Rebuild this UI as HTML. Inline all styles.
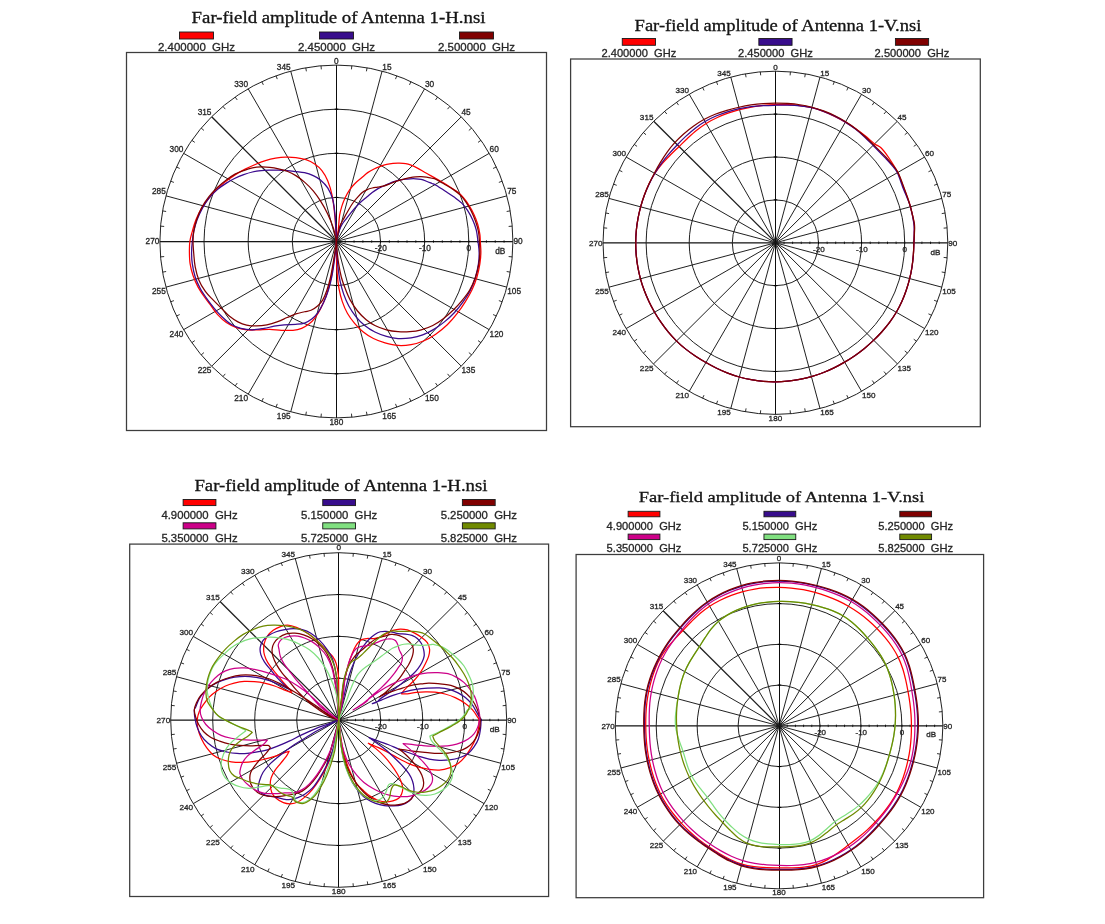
<!DOCTYPE html>
<html lang="en"><head><meta charset="utf-8"><title>Far-field amplitude</title>
<style>html,body{margin:0;padding:0;background:#fff;}body{width:1105px;height:924px;overflow:hidden;font-family:"Liberation Sans",sans-serif;}svg{display:block;}</style>
</head><body>
<svg width="1105" height="924" viewBox="0 0 1105 924"><defs><filter id="soft" x="0" y="0" width="100%" height="100%" filterUnits="userSpaceOnUse"><feGaussianBlur stdDeviation="0.38"/></filter></defs><rect width="1105" height="924" fill="#fff"/><g filter="url(#soft)"><g><text x="191.6" y="23.3" font-family="Liberation Serif, serif" font-size="16.2" fill="#141414" stroke="#141414" stroke-width="0.3" textLength="293.9" lengthAdjust="spacingAndGlyphs">Far-field amplitude of Antenna 1-H.nsi</text><rect x="179.5" y="32" width="34" height="7" fill="#ff0000" stroke="#1a1a1a" stroke-width="0.9"/><text x="196.5" y="51" text-anchor="middle" font-family="Liberation Sans, sans-serif" font-size="11.45" fill="#262626" stroke="#262626" stroke-width="0.3" textLength="77" lengthAdjust="spacingAndGlyphs" xml:space="preserve">2.400000  GHz</text><rect x="319.5" y="32" width="34" height="7" fill="#38088c" stroke="#1a1a1a" stroke-width="0.9"/><text x="336.5" y="51" text-anchor="middle" font-family="Liberation Sans, sans-serif" font-size="11.45" fill="#262626" stroke="#262626" stroke-width="0.3" textLength="77" lengthAdjust="spacingAndGlyphs" xml:space="preserve">2.450000  GHz</text><rect x="459.5" y="32" width="34" height="7" fill="#800000" stroke="#1a1a1a" stroke-width="0.9"/><text x="476.5" y="51" text-anchor="middle" font-family="Liberation Sans, sans-serif" font-size="11.45" fill="#262626" stroke="#262626" stroke-width="0.3" textLength="77" lengthAdjust="spacingAndGlyphs" xml:space="preserve">2.500000  GHz</text><rect x="126.5" y="52.5" width="420" height="378" fill="none" stroke="#3c3c3c" stroke-width="1.25"/><g fill="none" stroke="#1c1c1c" stroke-width="0.98"><ellipse cx="336.4" cy="241.5" rx="44.12" ry="44.1"/><ellipse cx="336.4" cy="241.5" rx="88.25" ry="88.2"/><ellipse cx="336.4" cy="241.5" rx="132.38" ry="132.3"/><ellipse cx="336.4" cy="241.5" rx="176.5" ry="176.4" stroke-width="0.98"/><path d="M336.4 241.5L382.08 71.11M336.4 241.5L424.65 88.73M336.4 241.5L489.25 153.3M336.4 241.5L506.89 195.84M336.4 241.5L506.89 287.16M336.4 241.5L489.25 329.7M336.4 241.5L424.65 394.27M336.4 241.5L382.08 411.89M336.4 241.5L290.72 411.89M336.4 241.5L248.15 394.27M336.4 241.5L183.55 329.7M336.4 241.5L165.91 287.16M336.4 241.5L165.91 195.84M336.4 241.5L183.55 153.3M336.4 241.5L248.15 88.73M336.4 241.5L290.72 71.11"/><path d="M336.45 241.55L461.25 116.82" stroke-width="1.0"/><path d="M336.45 241.45L461.25 366.18" stroke-width="1.0"/><path d="M336.45 241.55L211.65 366.28" stroke-width="1.0"/><path d="M336.45 241.45L211.65 116.72" stroke-width="1.3"/><path d="M336.5 65.1L336.5 417.9" stroke="#0a0a0a" stroke-width="1"/><path d="M159.9 241.5L512.9 241.5" stroke="#161616" stroke-width="1.25"/><path d="M351.78 65.77L351.47 69.36M367.05 67.78L366.42 71.32M396.77 75.74L395.54 79.12M410.99 81.63L409.47 84.89M437.64 97L435.57 99.95M449.85 106.37L447.54 109.13M471.61 128.11L468.85 130.42M480.98 140.32L478.03 142.38M496.36 166.95L493.1 168.47M502.26 181.17L498.87 182.4M510.22 210.87L506.67 211.49M512.23 226.13L508.64 226.44M512.23 256.87L508.64 256.56M510.22 272.13L506.67 271.51M502.26 301.83L498.87 300.6M496.36 316.05L493.1 314.53M480.98 342.68L478.03 340.62M471.61 354.89L468.85 352.58M449.85 376.63L447.54 373.87M437.64 386L435.57 383.05M410.99 401.37L409.47 398.11M396.77 407.26L395.54 403.88M367.05 415.22L366.42 411.68M351.78 417.23L351.47 413.64M321.02 417.23L321.33 413.64M305.75 415.22L306.38 411.68M276.03 407.26L277.26 403.88M261.81 401.37L263.33 398.11M235.16 386L237.23 383.05M222.95 376.63L225.26 373.87M201.19 354.89L203.95 352.58M191.82 342.68L194.77 340.62M176.44 316.05L179.7 314.53M170.54 301.83L173.93 300.6M162.58 272.13L166.13 271.51M160.57 256.87L164.16 256.56M160.57 226.13L164.16 226.44M162.58 210.87L166.13 211.49M170.54 181.17L173.93 182.4M176.44 166.95L179.7 168.47M191.82 140.32L194.77 142.38M201.19 128.11L203.95 130.42M222.95 106.37L225.26 109.13M235.16 97L237.23 99.95M261.81 81.63L263.33 84.89M276.03 75.74L277.26 79.12M305.75 67.78L306.38 71.32M321.02 65.77L321.33 69.36" stroke-width="0.9"/><path d="M345.22 240.25L345.22 242.75M354.05 240.25L354.05 242.75M362.88 240.25L362.88 242.75M371.7 240.25L371.7 242.75M380.52 240.25L380.52 242.75M389.35 240.25L389.35 242.75M398.17 240.25L398.17 242.75M407 240.25L407 242.75M415.82 240.25L415.82 242.75M424.65 240.25L424.65 242.75M433.47 240.25L433.47 242.75M442.3 240.25L442.3 242.75M451.12 240.25L451.12 242.75M459.95 240.25L459.95 242.75M468.77 240.25L468.77 242.75M477.6 240.25L477.6 242.75M486.42 240.25L486.42 242.75M495.25 240.25L495.25 242.75M504.07 240.25L504.07 242.75" stroke="#000" stroke-width="0.75"/><path d="M334.7 197.4L338.3 197.4M334.7 285.6L338.3 285.6M334.7 153.3L338.3 153.3M334.7 329.7L338.3 329.7M334.7 109.2L338.3 109.2M334.7 373.8L338.3 373.8" stroke="#000" stroke-width="1"/></g><g font-family="Liberation Sans, sans-serif" font-size="8.2" fill="#262626" stroke="#262626" stroke-width="0.3"><text x="334.09" y="63.6" textLength="4.61" lengthAdjust="spacingAndGlyphs">0</text><text x="382.38" y="69.61" textLength="9.23" lengthAdjust="spacingAndGlyphs">15</text><text x="424.95" y="87.23" textLength="9.23" lengthAdjust="spacingAndGlyphs">30</text><text x="461.5" y="115.27" textLength="9.23" lengthAdjust="spacingAndGlyphs">45</text><text x="489.55" y="151.8" textLength="9.23" lengthAdjust="spacingAndGlyphs">60</text><text x="507.19" y="194.34" textLength="9.23" lengthAdjust="spacingAndGlyphs">75</text><text x="513.4" y="244.44" textLength="9.23" lengthAdjust="spacingAndGlyphs">90</text><text x="507.19" y="293.96" textLength="13.84" lengthAdjust="spacingAndGlyphs">105</text><text x="489.55" y="336.5" textLength="13.84" lengthAdjust="spacingAndGlyphs">120</text><text x="461.5" y="373.03" textLength="13.84" lengthAdjust="spacingAndGlyphs">135</text><text x="424.95" y="401.07" textLength="13.84" lengthAdjust="spacingAndGlyphs">150</text><text x="382.38" y="418.69" textLength="13.84" lengthAdjust="spacingAndGlyphs">165</text><text x="329.48" y="424.9" textLength="13.84" lengthAdjust="spacingAndGlyphs">180</text><text x="276.77" y="418.69" textLength="13.84" lengthAdjust="spacingAndGlyphs">195</text><text x="234.21" y="401.07" textLength="13.84" lengthAdjust="spacingAndGlyphs">210</text><text x="197.65" y="373.03" textLength="13.84" lengthAdjust="spacingAndGlyphs">225</text><text x="169.6" y="336.5" textLength="13.84" lengthAdjust="spacingAndGlyphs">240</text><text x="151.97" y="293.96" textLength="13.84" lengthAdjust="spacingAndGlyphs">255</text><text x="145.56" y="244.44" textLength="13.84" lengthAdjust="spacingAndGlyphs">270</text><text x="151.97" y="194.34" textLength="13.84" lengthAdjust="spacingAndGlyphs">285</text><text x="169.6" y="151.8" textLength="13.84" lengthAdjust="spacingAndGlyphs">300</text><text x="197.65" y="115.27" textLength="13.84" lengthAdjust="spacingAndGlyphs">315</text><text x="234.21" y="87.23" textLength="13.84" lengthAdjust="spacingAndGlyphs">330</text><text x="276.77" y="69.61" textLength="13.84" lengthAdjust="spacingAndGlyphs">345</text><text x="374.83" y="251.2" textLength="11.99" lengthAdjust="spacingAndGlyphs">-20</text><text x="418.95" y="251.2" textLength="11.99" lengthAdjust="spacingAndGlyphs">-10</text><text x="466.57" y="251.2" textLength="4.61" lengthAdjust="spacingAndGlyphs">0</text><text x="495.22" y="254" textLength="10.15" lengthAdjust="spacingAndGlyphs">dB</text></g><g fill="none" stroke-width="1.25" stroke-linejoin="round" stroke-linecap="round"><path d="M336.4 241.5C336.71 239.58 337.73 234.39 338.26 230C338.8 225.61 339.02 219.14 339.62 215.16C340.22 211.18 340.98 208.97 341.88 206.11C342.79 203.24 343.77 200.68 345.05 197.96C346.33 195.25 347.92 192.23 349.57 189.82C351.23 187.41 353.04 185.44 355 183.48C356.97 181.52 359.23 179.86 361.34 178.05C363.45 176.24 365.56 174.13 367.67 172.62C369.79 171.12 371.9 170.06 374.01 169C376.12 167.95 378.23 167.07 380.34 166.29C382.46 165.51 384.57 164.8 386.68 164.3C388.79 163.8 390.9 163.5 393.01 163.3C395.13 163.11 397.24 163.08 399.35 163.12C401.46 163.17 403.72 163.23 405.68 163.57C407.64 163.92 409.15 164.45 411.11 165.2C413.07 165.96 415.34 167.01 417.45 168.1C419.56 169.19 421.67 170.51 423.78 171.72C425.89 172.93 428.08 174.21 430.12 175.34C432.15 176.47 433.38 177.01 436 178.51C438.62 180 442.51 182.25 445.84 184.3C449.17 186.35 453.08 188.64 455.98 190.82C458.87 192.99 461.05 194.92 463.22 197.33C465.39 199.75 467.2 202.4 469.01 205.3C470.82 208.19 472.63 211.57 474.08 214.71C475.53 217.85 476.73 220.86 477.7 224.12C478.66 227.38 479.44 231.36 479.87 234.26C480.3 237.15 480.14 238.48 480.3 241.5C480.47 244.52 480.96 248.63 480.88 252.38C480.81 256.12 480.52 259.86 479.87 263.96C479.22 268.06 478.3 272.65 476.97 276.99C475.65 281.34 473.84 285.92 471.91 290.02C469.97 294.13 467.8 297.75 465.39 301.61C462.98 305.47 460.44 309.33 457.43 313.19C454.41 317.05 450.91 321.28 447.29 324.78C443.67 328.28 439.57 331.53 435.71 334.19C431.84 336.84 428.22 338.97 424.12 340.71C420.02 342.44 415.43 343.82 411.09 344.61C406.74 345.41 402.4 345.77 398.06 345.48C393.71 345.19 389.13 344.04 385.02 342.88C380.92 341.72 377.06 340.34 373.44 338.53C369.82 336.72 366.44 334.55 363.3 332.02C360.17 329.48 357.27 326.47 354.62 323.33C351.96 320.19 349.43 316.81 347.38 313.19C345.32 309.57 343.71 305.71 342.31 301.61C340.91 297.51 339.82 293.16 338.98 288.58C338.13 283.99 337.65 279.16 337.24 274.1C336.83 269.03 336.66 263.6 336.52 258.17C336.38 252.74 336.42 244.28 336.4 241.5L336.4 241.5C336.2 243.07 335.71 247.18 335.23 250.93C334.74 254.67 334.26 259.13 333.49 263.96C332.72 268.79 331.8 274.58 330.59 279.89C329.39 285.2 327.94 290.99 326.25 295.82C324.56 300.64 322.39 305.11 320.46 308.85C318.53 312.59 316.6 315.73 314.67 318.26C312.73 320.79 311.05 322.36 308.87 324.05C306.7 325.74 304.29 327.36 301.63 328.4C298.98 329.43 296.32 329.97 292.95 330.28C289.57 330.59 285.22 330.42 281.36 330.28C277.5 330.13 273.64 329.48 269.78 329.41C265.92 329.34 262.05 329.77 258.19 329.85C254.33 329.92 250.23 330.21 246.61 329.85C242.99 329.48 239.85 328.88 236.47 327.67C233.09 326.47 229.47 324.78 226.34 322.6C223.2 320.43 220.18 317.42 217.65 314.64C215.11 311.87 213.3 308.85 211.13 305.95C208.96 303.06 206.79 300.4 204.62 297.26C202.44 294.13 200.03 290.75 198.1 287.13C196.17 283.51 194.36 279.41 193.03 275.54C191.7 271.68 190.74 267.82 190.14 263.96C189.53 260.1 189.46 256.12 189.41 252.38C189.36 248.64 189.36 245.02 189.85 241.52C190.33 238.01 191.29 234.98 192.31 231.36C193.32 227.74 194.36 223.64 195.93 219.78C197.5 215.92 199.55 211.81 201.72 208.19C203.89 204.57 206.55 201.07 208.96 198.06C211.37 195.04 213.55 192.75 216.2 190.09C218.86 187.44 221.75 184.66 224.89 182.13C228.03 179.59 231.65 177.06 235.02 174.89C238.4 172.72 241.78 170.83 245.16 169.1C248.54 167.36 251.92 165.86 255.3 164.46C258.68 163.06 262.05 161.74 265.43 160.7C268.81 159.66 272.19 158.84 275.57 158.24C278.95 157.63 282.33 157.2 285.71 157.08C289.08 156.96 292.46 157.08 295.84 157.51C299.22 157.95 302.84 158.6 305.98 159.68C309.11 160.77 312.01 162.22 314.67 164.03C317.32 165.84 319.73 167.77 321.91 170.54C324.08 173.32 326.01 176.58 327.7 180.68C329.39 184.78 330.84 189.13 332.04 195.16C333.25 201.19 334.21 209.16 334.94 216.88C335.66 224.6 336.16 237.4 336.4 241.5" stroke="#ff0000"/><path d="M336.4 241.5C336.94 239.52 338.56 232.67 339.62 229.64C340.68 226.61 341.81 224.96 342.79 223.3C343.77 221.64 345.05 220.29 345.5 219.68L345.5 219.68C346.33 218.63 348.75 215.46 350.48 213.35C352.21 211.24 354.1 208.97 355.91 207.01C357.72 205.05 359.53 203.24 361.34 201.58C363.15 199.92 364.96 198.57 366.77 197.06C368.58 195.55 370.39 193.89 372.2 192.53C374.01 191.18 375.82 189.97 377.63 188.91C379.44 187.86 381.25 187.03 383.06 186.2C384.87 185.37 386.68 184.69 388.49 183.94C390.3 183.18 392.11 182.31 393.92 181.67C395.73 181.04 397.54 180.56 399.35 180.14C401.16 179.71 402.97 179.37 404.78 179.14C406.59 178.91 408.4 178.84 410.21 178.78C412.02 178.72 413.83 178.67 415.64 178.78C417.45 178.88 419.26 179 421.07 179.41C422.88 179.82 424.69 180.54 426.5 181.22C428.31 181.9 430.34 182.81 431.93 183.48C433.51 184.16 433.68 183.95 436 185.29C438.32 186.64 442.75 189.53 445.84 191.54C448.93 193.55 451.87 195.4 454.53 197.33C457.18 199.26 459.6 200.95 461.77 203.12C463.94 205.3 465.75 207.59 467.56 210.36C469.37 213.14 471.18 216.52 472.63 219.78C474.08 223.04 475.36 226.29 476.25 229.91C477.14 233.53 477.5 237.75 477.99 241.5C478.47 245.24 479.07 248.63 479.15 252.38C479.22 256.12 479.03 259.86 478.42 263.96C477.82 268.06 476.85 272.65 475.53 276.99C474.2 281.34 472.51 285.92 470.46 290.02C468.41 294.13 465.87 297.87 463.22 301.61C460.56 305.35 457.67 309.09 454.53 312.47C451.39 315.85 447.77 319.11 444.39 321.88C441.01 324.66 437.88 326.95 434.26 329.12C430.64 331.29 426.53 333.47 422.67 334.91C418.81 336.36 415.19 337.21 411.09 337.81C406.99 338.41 402.16 338.77 398.06 338.53C393.95 338.29 390.33 337.45 386.47 336.36C382.61 335.28 378.51 333.83 374.89 332.02C371.27 330.21 367.89 328.04 364.75 325.5C361.62 322.97 358.72 320.07 356.06 316.81C353.41 313.55 350.88 309.69 348.82 305.95C346.77 302.21 345.2 298.47 343.76 294.37C342.31 290.27 341.1 285.92 340.14 281.34C339.17 276.75 338.52 271.68 337.96 266.86C337.41 262.03 337.07 256.6 336.81 252.38C336.54 248.15 336.47 243.31 336.4 241.5L336.4 241.5C336.11 244.28 335.37 252.49 334.65 258.17C333.92 263.84 333.08 270.24 332.04 275.54C331 280.85 329.87 285.44 328.42 290.02C326.97 294.61 325.16 299.2 323.35 303.06C321.54 306.92 319.49 310.54 317.56 313.19C315.63 315.85 313.94 317.34 311.77 318.98C309.6 320.63 307.18 322.15 304.53 323.04C301.87 323.93 299.22 324.05 295.84 324.34C292.46 324.63 287.88 324.46 284.26 324.78C280.64 325.09 277.5 325.62 274.12 326.23C270.74 326.83 267.6 327.79 263.98 328.4C260.36 329 256.26 329.85 252.4 329.85C248.54 329.85 244.44 329.36 240.82 328.4C237.2 327.43 233.82 325.98 230.68 324.05C227.54 322.12 224.77 319.47 221.99 316.81C219.22 314.16 216.56 311.14 214.03 308.12C211.49 305.11 209.08 301.97 206.79 298.71C204.5 295.45 202.2 292.2 200.27 288.58C198.34 284.96 196.53 281.1 195.2 276.99C193.88 272.89 192.91 268.06 192.31 263.96C191.7 259.86 191.58 256.12 191.58 252.38C191.58 248.64 191.95 245.02 192.31 241.52C192.67 238.01 192.96 234.98 193.76 231.36C194.55 227.74 195.64 223.64 197.09 219.78C198.53 215.92 200.47 211.81 202.44 208.19C204.42 204.57 206.43 201.19 208.96 198.06C211.49 194.92 214.75 191.85 217.65 189.37C220.54 186.88 223.44 185 226.34 183.14C229.23 181.28 232.13 179.64 235.02 178.22C237.92 176.8 240.82 175.64 243.71 174.6C246.61 173.56 249.5 172.67 252.4 171.99C255.3 171.32 258.19 170.86 261.09 170.54C263.98 170.23 266.88 170.18 269.78 170.11C272.67 170.04 275.57 170.04 278.47 170.11C281.36 170.18 284.26 170.3 287.15 170.54C290.05 170.79 292.95 171.2 295.84 171.56C298.74 171.92 301.63 172.04 304.53 172.72C307.43 173.39 310.56 174.41 313.22 175.61C315.87 176.82 318.04 177.91 320.46 179.96C322.87 182.01 325.65 184.66 327.7 187.92C329.75 191.18 331.51 194.68 332.77 199.5C334.02 204.33 334.62 209.88 335.23 216.88C335.83 223.88 336.2 237.4 336.4 241.5" stroke="#38088c"/><path d="M336.4 241.5C336.94 239.07 338.33 230.86 339.62 226.92C340.91 222.99 342.64 220.74 344.14 217.87C345.65 215.01 347.16 212.29 348.67 209.73C350.18 207.16 351.69 204.6 353.19 202.49C354.7 200.38 356.21 198.72 357.72 197.06C359.23 195.4 360.74 193.74 362.24 192.53C363.75 191.33 365.11 190.57 366.77 189.82C368.43 189.06 370.39 188.46 372.2 188.01C374.01 187.56 375.82 187.41 377.63 187.1C379.44 186.8 381.25 186.65 383.06 186.2C384.87 185.75 386.68 185.07 388.49 184.39C390.3 183.71 392.11 182.81 393.92 182.13C395.73 181.45 397.54 180.84 399.35 180.32C401.16 179.79 402.97 179.41 404.78 178.96C406.59 178.51 408.4 177.95 410.21 177.6C412.02 177.25 413.83 177.03 415.64 176.88C417.45 176.73 419.26 176.65 421.07 176.7C422.88 176.74 424.69 176.89 426.5 177.15C428.31 177.41 430.34 177.86 431.93 178.24C433.51 178.61 433.68 178.28 436 179.41C438.32 180.54 442.99 183.37 445.84 185.02C448.69 186.68 450.67 187.68 453.08 189.37C455.49 191.06 458.15 192.99 460.32 195.16C462.49 197.33 464.3 199.75 466.11 202.4C467.92 205.06 469.61 207.95 471.18 211.09C472.75 214.23 474.32 217.85 475.53 221.23C476.73 224.6 477.77 227.98 478.42 231.36C479.07 234.74 479.19 237.99 479.44 241.5C479.68 245 479.97 248.63 479.87 252.38C479.77 256.12 479.58 259.86 478.86 263.96C478.13 268.06 477.05 272.65 475.53 276.99C474.01 281.34 472.03 286.04 469.73 290.02C467.44 294.01 464.54 297.51 461.77 300.88C458.99 304.26 456.22 307.28 453.08 310.3C449.94 313.31 446.32 316.45 442.95 318.98C439.57 321.52 436.43 323.69 432.81 325.5C429.19 327.31 425.09 328.81 421.23 329.85C417.36 330.88 413.5 331.41 409.64 331.73C405.78 332.04 401.92 332.04 398.06 331.73C394.2 331.41 390.33 330.88 386.47 329.85C382.61 328.81 378.27 327.19 374.89 325.5C371.51 323.81 369.1 322.12 366.2 319.71C363.3 317.3 360.17 314.28 357.51 311.02C354.86 307.76 352.32 303.9 350.27 300.16C348.22 296.42 346.7 292.44 345.2 288.58C343.71 284.72 342.38 281.1 341.29 276.99C340.21 272.89 339.36 268.06 338.69 263.96C338.01 259.86 337.62 256.12 337.24 252.38C336.86 248.63 336.54 243.31 336.4 241.5L336.4 241.5C336.28 242.59 336.15 244.77 335.66 248.03C335.18 251.29 334.33 256.24 333.49 261.06C332.65 265.89 331.68 272.17 330.59 276.99C329.51 281.82 328.3 286.16 326.97 290.02C325.65 293.89 324.2 297.51 322.63 300.16C321.06 302.82 319.49 304.26 317.56 305.95C315.63 307.64 313.22 309.33 311.05 310.3C308.87 311.26 307.06 311.14 304.53 311.74C302 312.35 298.74 312.95 295.84 313.92C292.95 314.88 290.29 316.21 287.15 317.54C284.02 318.86 280.4 320.67 277.02 321.88C273.64 323.09 270.26 324.1 266.88 324.78C263.5 325.45 260.12 325.89 256.74 325.94C253.37 325.98 249.75 325.74 246.61 325.07C243.47 324.39 240.82 323.38 237.92 321.88C235.02 320.38 231.89 318.26 229.23 316.09C226.58 313.92 224.65 311.5 221.99 308.85C219.34 306.19 216.08 303.06 213.3 300.16C210.53 297.26 207.75 294.85 205.34 291.47C202.93 288.09 200.51 283.99 198.82 279.89C197.13 275.79 196.05 271.2 195.2 266.86C194.36 262.51 194.12 258.05 193.76 253.82C193.39 249.6 193.03 245.26 193.03 241.52C193.03 237.77 193.15 234.98 193.76 231.36C194.36 227.74 195.32 223.76 196.65 219.78C197.98 215.79 199.67 211.33 201.72 207.47C203.77 203.61 206.31 199.99 208.96 196.61C211.62 193.23 214.75 189.97 217.65 187.2C220.54 184.42 223.44 182.13 226.34 179.96C229.23 177.78 232.13 175.73 235.02 174.16C237.92 172.6 240.82 171.58 243.71 170.54C246.61 169.51 249.5 168.54 252.4 167.94C255.3 167.33 258.19 167.02 261.09 166.92C263.98 166.83 266.88 167.05 269.78 167.36C272.67 167.67 275.57 168.16 278.47 168.81C281.36 169.46 284.26 170.13 287.15 171.27C290.05 172.4 292.95 173.8 295.84 175.61C298.74 177.42 301.63 179.59 304.53 182.13C307.43 184.66 310.56 187.68 313.22 190.82C315.87 193.95 318.04 197.09 320.46 200.95C322.87 204.81 325.53 209.4 327.7 213.98C329.87 218.57 332.04 223.88 333.49 228.47C334.94 233.05 335.91 239.33 336.4 241.5" stroke="#800000"/></g></g>
<g><text x="634.6" y="30.7" font-family="Liberation Serif, serif" font-size="16" fill="#141414" stroke="#141414" stroke-width="0.3" textLength="286.7" lengthAdjust="spacingAndGlyphs">Far-field amplitude of Antenna 1-V.nsi</text><rect x="622.28" y="38.5" width="33.2" height="6.8" fill="#ff0000" stroke="#1a1a1a" stroke-width="0.9"/><text x="638.88" y="57.3" text-anchor="middle" font-family="Liberation Sans, sans-serif" font-size="11.15" fill="#262626" stroke="#262626" stroke-width="0.3" textLength="74.8" lengthAdjust="spacingAndGlyphs" xml:space="preserve">2.400000  GHz</text><rect x="758.85" y="38.5" width="33.2" height="6.8" fill="#38088c" stroke="#1a1a1a" stroke-width="0.9"/><text x="775.45" y="57.3" text-anchor="middle" font-family="Liberation Sans, sans-serif" font-size="11.15" fill="#262626" stroke="#262626" stroke-width="0.3" textLength="74.8" lengthAdjust="spacingAndGlyphs" xml:space="preserve">2.450000  GHz</text><rect x="895.42" y="38.5" width="33.2" height="6.8" fill="#800000" stroke="#1a1a1a" stroke-width="0.9"/><text x="912.02" y="57.3" text-anchor="middle" font-family="Liberation Sans, sans-serif" font-size="11.15" fill="#262626" stroke="#262626" stroke-width="0.3" textLength="74.8" lengthAdjust="spacingAndGlyphs" xml:space="preserve">2.500000  GHz</text><rect x="570.6" y="59" width="409.7" height="367.7" fill="none" stroke="#3c3c3c" stroke-width="1.25"/><g fill="none" stroke="#1c1c1c" stroke-width="0.98"><ellipse cx="775.4" cy="242.8" rx="43.1" ry="42.9"/><ellipse cx="775.4" cy="242.8" rx="86.2" ry="85.8"/><ellipse cx="775.4" cy="242.8" rx="129.3" ry="128.7"/><ellipse cx="775.4" cy="242.8" rx="172.4" ry="171.6" stroke-width="0.98"/><path d="M775.4 242.8L820.02 77.05M775.4 242.8L861.6 94.19M775.4 242.8L924.7 157M775.4 242.8L941.93 198.39M775.4 242.8L941.93 287.21M775.4 242.8L924.7 328.6M775.4 242.8L861.6 391.41M775.4 242.8L820.02 408.55M775.4 242.8L730.78 408.55M775.4 242.8L689.2 391.41M775.4 242.8L626.1 328.6M775.4 242.8L608.87 287.21M775.4 242.8L608.87 198.39M775.4 242.8L626.1 157M775.4 242.8L689.2 94.19M775.4 242.8L730.78 77.05"/><path d="M775.3 242.7L897.21 121.36" stroke-width="1.0"/><path d="M775.6 242.6L897.51 363.94" stroke-width="1.0"/><path d="M775.3 242.7L653.39 364.04" stroke-width="1.0"/><path d="M775.6 242.6L653.69 121.26" stroke-width="1.3"/><path d="M775.5 71.2L775.5 414.4" stroke="#0a0a0a" stroke-width="1"/><path d="M603 242.8L947.8 242.8" stroke="#161616" stroke-width="1.25"/><path d="M790.43 71.85L790.12 75.34M805.34 73.81L804.73 77.25M834.36 81.55L833.16 84.84M848.26 87.28L846.77 90.45M874.28 102.23L872.27 105.1M886.22 111.35L883.96 114.03M907.47 132.5L904.77 134.75M916.62 144.37L913.74 146.38M931.65 170.28L928.46 171.76M937.4 184.11L934.1 185.31M945.18 213L941.72 213.61M947.14 227.84L943.64 228.15M947.14 257.76L943.64 257.45M945.18 272.6L941.72 271.99M937.4 301.49L934.1 300.29M931.65 315.32L928.46 313.84M916.62 341.23L913.74 339.22M907.47 353.1L904.77 350.85M886.22 374.25L883.96 371.57M874.28 383.37L872.27 380.5M848.26 398.32L846.77 395.15M834.36 404.05L833.16 400.76M805.34 411.79L804.73 408.35M790.43 413.75L790.12 410.26M760.37 413.75L760.68 410.26M745.46 411.79L746.07 408.35M716.44 404.05L717.64 400.76M702.54 398.32L704.03 395.15M676.52 383.37L678.53 380.5M664.58 374.25L666.84 371.57M643.33 353.1L646.03 350.85M634.18 341.23L637.06 339.22M619.15 315.32L622.34 313.84M613.4 301.49L616.7 300.29M605.62 272.6L609.08 271.99M603.66 257.76L607.16 257.45M603.66 227.84L607.16 228.15M605.62 213L609.08 213.61M613.4 184.11L616.7 185.31M619.15 170.28L622.34 171.76M634.18 144.37L637.06 146.38M643.33 132.5L646.03 134.75M664.58 111.35L666.84 114.03M676.52 102.23L678.53 105.1M702.54 87.28L704.03 90.45M716.44 81.55L717.64 84.84M745.46 73.81L746.07 77.25M760.37 71.85L760.68 75.34" stroke-width="0.9"/><path d="M784.02 241.55L784.02 244.05M792.64 241.55L792.64 244.05M801.26 241.55L801.26 244.05M809.88 241.55L809.88 244.05M818.5 241.55L818.5 244.05M827.12 241.55L827.12 244.05M835.74 241.55L835.74 244.05M844.36 241.55L844.36 244.05M852.98 241.55L852.98 244.05M861.6 241.55L861.6 244.05M870.22 241.55L870.22 244.05M878.84 241.55L878.84 244.05M887.46 241.55L887.46 244.05M896.08 241.55L896.08 244.05M904.7 241.55L904.7 244.05M913.32 241.55L913.32 244.05M921.94 241.55L921.94 244.05M930.56 241.55L930.56 244.05M939.18 241.55L939.18 244.05" stroke="#000" stroke-width="0.75"/><path d="M773.7 199.9L777.3 199.9M773.7 285.7L777.3 285.7M773.7 157L777.3 157M773.7 328.6L777.3 328.6M773.7 114.1L777.3 114.1M773.7 371.5L777.3 371.5" stroke="#000" stroke-width="1"/></g><g font-family="Liberation Sans, sans-serif" font-size="7.9" fill="#262626" stroke="#262626" stroke-width="0.3"><text x="773.15" y="69.7" textLength="4.5" lengthAdjust="spacingAndGlyphs">0</text><text x="820.32" y="75.55" textLength="9.01" lengthAdjust="spacingAndGlyphs">15</text><text x="861.9" y="92.69" textLength="9.01" lengthAdjust="spacingAndGlyphs">30</text><text x="897.61" y="119.96" textLength="9.01" lengthAdjust="spacingAndGlyphs">45</text><text x="925" y="155.5" textLength="9.01" lengthAdjust="spacingAndGlyphs">60</text><text x="942.23" y="196.89" textLength="9.01" lengthAdjust="spacingAndGlyphs">75</text><text x="948.3" y="245.63" textLength="9.01" lengthAdjust="spacingAndGlyphs">90</text><text x="942.23" y="294.01" textLength="13.51" lengthAdjust="spacingAndGlyphs">105</text><text x="925" y="335.4" textLength="13.51" lengthAdjust="spacingAndGlyphs">120</text><text x="897.61" y="370.94" textLength="13.51" lengthAdjust="spacingAndGlyphs">135</text><text x="861.9" y="398.21" textLength="13.51" lengthAdjust="spacingAndGlyphs">150</text><text x="820.32" y="415.35" textLength="13.51" lengthAdjust="spacingAndGlyphs">165</text><text x="768.64" y="421" textLength="13.51" lengthAdjust="spacingAndGlyphs">180</text><text x="717.17" y="415.35" textLength="13.51" lengthAdjust="spacingAndGlyphs">195</text><text x="675.59" y="398.21" textLength="13.51" lengthAdjust="spacingAndGlyphs">210</text><text x="639.88" y="370.94" textLength="13.51" lengthAdjust="spacingAndGlyphs">225</text><text x="612.49" y="335.4" textLength="13.51" lengthAdjust="spacingAndGlyphs">240</text><text x="595.26" y="294.01" textLength="13.51" lengthAdjust="spacingAndGlyphs">255</text><text x="588.99" y="245.63" textLength="13.51" lengthAdjust="spacingAndGlyphs">270</text><text x="595.26" y="196.89" textLength="13.51" lengthAdjust="spacingAndGlyphs">285</text><text x="612.49" y="155.5" textLength="13.51" lengthAdjust="spacingAndGlyphs">300</text><text x="639.88" y="119.96" textLength="13.51" lengthAdjust="spacingAndGlyphs">315</text><text x="675.59" y="92.69" textLength="13.51" lengthAdjust="spacingAndGlyphs">330</text><text x="717.17" y="75.55" textLength="13.51" lengthAdjust="spacingAndGlyphs">345</text><text x="812.95" y="252.27" textLength="11.7" lengthAdjust="spacingAndGlyphs">-20</text><text x="856.05" y="252.27" textLength="11.7" lengthAdjust="spacingAndGlyphs">-10</text><text x="902.55" y="252.27" textLength="4.5" lengthAdjust="spacingAndGlyphs">0</text><text x="930.54" y="255.01" textLength="9.91" lengthAdjust="spacingAndGlyphs">dB</text></g><g fill="none" stroke-width="1.25" stroke-linejoin="round" stroke-linecap="round"><path d="M775.4 104.74C779.43 104.62 783.49 104.57 787.54 104.71C791.59 104.84 795.67 105.05 799.71 105.56C803.75 106.06 807.81 106.74 811.76 107.72C815.72 108.69 819.63 109.98 823.44 111.42C827.26 112.86 830.98 114.56 834.64 116.35C838.3 118.13 841.89 120.07 845.4 122.12C848.91 124.17 852.35 126.35 855.69 128.67C859.03 130.98 862.26 133.45 865.44 135.99C868.61 138.54 872.12 141.92 874.75 143.91C877.38 145.91 878.88 145.65 881.22 147.96C883.57 150.26 886.05 153.65 888.81 157.74C891.56 161.83 895.24 167.36 897.77 172.48C900.3 177.6 902.39 184.29 903.99 188.47C905.6 192.65 906.35 194.5 907.42 197.55C908.5 200.6 909.33 202.48 910.44 206.78C911.54 211.09 913.4 219.01 914.04 223.41C914.68 227.8 914.29 229.9 914.27 233.13C914.24 236.37 914.05 239.19 913.9 242.8C913.75 246.41 913.68 250.82 913.37 254.81C913.05 258.81 912.65 262.81 912.03 266.78C911.42 270.75 910.63 274.7 909.66 278.61C908.7 282.51 907.55 286.39 906.25 290.2C904.95 294.02 903.5 297.81 901.84 301.48C900.18 305.16 898.34 308.79 896.3 312.28C894.25 315.76 891.98 319.14 889.58 322.38C887.18 325.62 884.57 328.73 881.89 331.74C879.2 334.75 876.38 337.64 873.48 340.42C870.57 343.2 867.55 345.88 864.44 348.42C861.32 350.95 858.09 353.36 854.78 355.64C851.47 357.92 848.07 360.07 844.6 362.1C841.13 364.13 837.59 366.06 833.97 367.83C830.36 369.6 826.67 371.27 822.91 372.74C819.16 374.21 815.31 375.52 811.43 376.63C807.54 377.75 803.58 378.67 799.6 379.42C795.62 380.17 791.59 380.75 787.56 381.14C783.53 381.52 779.46 381.73 775.4 381.75C771.34 381.78 767.27 381.62 763.23 381.28C759.19 380.94 755.14 380.42 751.15 379.71C747.15 379 743.17 378.11 739.27 377.02C735.37 375.92 731.51 374.61 727.74 373.15C723.96 371.69 720.27 370.01 716.64 368.24C713 366.47 709.45 364.54 705.95 362.53C702.45 360.53 698.98 358.44 695.62 356.21C692.26 353.98 688.93 351.64 685.76 349.13C682.59 346.62 679.51 343.95 676.62 341.12C673.72 338.3 670.98 335.28 668.39 332.18C665.8 329.07 663.37 325.81 661.07 322.48C658.77 319.16 656.61 315.72 654.59 312.23C652.57 308.73 650.66 305.15 648.93 301.5C647.2 297.85 645.6 294.12 644.19 290.34C642.78 286.55 641.52 282.69 640.46 278.79C639.4 274.89 638.51 270.93 637.8 266.95C637.09 262.97 636.56 258.95 636.21 254.92C635.86 250.9 635.69 246.84 635.7 242.8C635.71 238.76 635.91 234.71 636.28 230.69C636.66 226.66 637.22 222.65 637.95 218.68C638.67 214.71 639.6 210.76 640.65 206.86C641.71 202.97 642.91 199.09 644.29 195.3C645.66 191.5 647.17 187.73 648.92 184.09C650.66 180.46 652.57 176.86 654.76 173.47C656.95 170.09 659.45 166.87 662.04 163.8C664.64 160.72 667.51 157.88 670.32 155.04C673.12 152.19 676.03 149.5 678.88 146.73C681.73 143.96 684.5 141.14 687.41 138.43C690.33 135.71 693.24 132.94 696.36 130.44C699.48 127.94 702.74 125.53 706.15 123.41C709.56 121.29 713.16 119.43 716.81 117.73C720.45 116.03 724.22 114.55 728.01 113.2C731.8 111.85 735.66 110.67 739.55 109.64C743.44 108.61 747.39 107.74 751.35 107.04C755.31 106.35 759.32 105.84 763.33 105.46C767.34 105.08 771.37 104.87 775.4 104.74Z" stroke="#ff0000"/><path d="M775.4 105.24C779.43 105.17 783.45 105.08 787.5 105.17C791.54 105.25 795.63 105.33 799.68 105.76C803.72 106.18 807.8 106.79 811.76 107.72C815.73 108.64 819.66 109.9 823.48 111.31C827.31 112.72 831.07 114.38 834.72 116.18C838.37 117.98 841.96 119.97 845.4 122.12C848.84 124.27 852.18 126.62 855.38 129.1C858.58 131.58 861.63 134.27 864.59 137C867.56 139.72 869.8 142.02 873.19 145.46C876.58 148.9 881.88 154.39 884.93 157.62C887.99 160.85 889.45 162.32 891.52 164.84C893.59 167.36 895.36 168.74 897.34 172.73C899.31 176.71 901.72 184.58 903.35 188.74C904.98 192.9 905.91 194.66 907.09 197.67C908.27 200.67 909.31 202.49 910.44 206.78C911.56 211.08 913.22 219.04 913.84 223.43C914.46 227.83 914.15 229.91 914.16 233.14C914.17 236.37 914.03 239.19 913.9 242.8C913.77 246.41 913.69 250.82 913.38 254.82C913.07 258.81 912.66 262.82 912.04 266.78C911.42 270.75 910.63 274.71 909.66 278.61C908.7 282.51 907.55 286.39 906.25 290.2C904.95 294.02 903.5 297.81 901.84 301.48C900.18 305.16 898.34 308.79 896.3 312.28C894.25 315.76 891.98 319.14 889.58 322.38C887.18 325.62 884.57 328.73 881.89 331.74C879.2 334.75 876.38 337.64 873.48 340.42C870.57 343.2 867.55 345.88 864.44 348.42C861.32 350.95 858.09 353.36 854.78 355.64C851.47 357.92 848.07 360.07 844.6 362.1C841.13 364.13 837.59 366.06 833.97 367.83C830.36 369.6 826.67 371.27 822.91 372.74C819.16 374.21 815.31 375.52 811.43 376.63C807.54 377.75 803.58 378.67 799.6 379.42C795.62 380.17 791.59 380.75 787.56 381.14C783.53 381.52 779.46 381.73 775.4 381.75C771.34 381.78 767.27 381.62 763.23 381.28C759.19 380.94 755.14 380.42 751.15 379.71C747.15 379 743.17 378.11 739.27 377.02C735.37 375.92 731.51 374.61 727.74 373.15C723.96 371.69 720.27 370.01 716.64 368.24C713 366.47 709.45 364.54 705.95 362.53C702.45 360.53 698.98 358.44 695.62 356.21C692.26 353.98 688.93 351.64 685.76 349.13C682.59 346.62 679.51 343.95 676.62 341.12C673.72 338.3 670.98 335.28 668.39 332.18C665.8 329.07 663.37 325.81 661.07 322.48C658.77 319.16 656.61 315.72 654.59 312.23C652.57 308.73 650.66 305.15 648.93 301.5C647.2 297.85 645.6 294.12 644.19 290.34C642.78 286.55 641.52 282.69 640.46 278.79C639.4 274.89 638.51 270.93 637.8 266.95C637.09 262.97 636.56 258.95 636.21 254.92C635.86 250.9 635.69 246.84 635.7 242.8C635.71 238.76 635.91 234.71 636.28 230.69C636.66 226.66 637.22 222.65 637.95 218.68C638.67 214.71 639.58 210.75 640.65 206.86C641.72 202.97 642.97 199.11 644.37 195.33C645.78 191.55 647.35 187.81 649.08 184.17C650.82 180.53 652.71 176.94 654.76 173.47C656.82 170.01 659.06 166.63 661.43 163.37C663.79 160.1 666.34 156.96 668.95 153.9C671.57 150.83 674.32 147.88 677.11 144.97C679.91 142.05 682.74 139.17 685.71 136.41C688.69 133.66 691.72 130.91 694.94 128.43C698.16 125.94 701.54 123.58 705.05 121.52C708.56 119.45 712.27 117.65 716.01 116.04C719.76 114.43 723.63 113.07 727.51 111.84C731.39 110.61 735.33 109.55 739.29 108.68C743.25 107.81 747.27 107.12 751.27 106.61C755.28 106.09 759.32 105.82 763.34 105.6C767.36 105.37 771.37 105.31 775.4 105.24Z" stroke="#38088c"/><path d="M775.4 103.05C779.48 103.04 783.57 103.15 787.65 103.43C791.73 103.72 795.82 104.11 799.86 104.75C803.9 105.38 807.93 106.2 811.89 107.24C815.85 108.27 819.77 109.54 823.61 110.96C827.44 112.39 831.22 114.01 834.9 115.8C838.57 117.59 842.18 119.54 845.65 121.69C849.12 123.83 852.47 126.19 855.69 128.66C858.92 131.14 861.98 133.82 864.98 136.54C867.98 139.25 870.23 141.56 873.69 144.97C877.14 148.38 882.63 153.77 885.72 157.01C888.81 160.24 890.19 161.8 892.23 164.37C894.26 166.93 895.94 168.38 897.94 172.38C899.95 176.38 902.67 184.16 904.27 188.35C905.87 192.54 906.52 194.44 907.55 197.51C908.58 200.58 909.31 202.48 910.44 206.78C911.57 211.09 913.67 218.97 914.33 223.36C915 227.75 914.5 229.88 914.43 233.12C914.36 236.36 914.08 239.19 913.9 242.8C913.72 246.41 913.65 250.82 913.34 254.81C913.02 258.81 912.63 262.81 912.02 266.78C911.41 270.74 910.63 274.7 909.66 278.61C908.7 282.51 907.55 286.39 906.25 290.2C904.95 294.02 903.5 297.81 901.84 301.48C900.18 305.16 898.34 308.79 896.3 312.28C894.25 315.76 891.98 319.14 889.58 322.38C887.18 325.62 884.57 328.73 881.89 331.74C879.2 334.75 876.38 337.64 873.48 340.42C870.57 343.2 867.55 345.88 864.44 348.42C861.32 350.95 858.09 353.36 854.78 355.64C851.47 357.92 848.07 360.07 844.6 362.1C841.13 364.13 837.59 366.06 833.97 367.83C830.36 369.6 826.67 371.27 822.91 372.74C819.16 374.21 815.31 375.52 811.43 376.63C807.54 377.75 803.58 378.67 799.6 379.42C795.62 380.17 791.59 380.75 787.56 381.14C783.53 381.52 779.46 381.73 775.4 381.75C771.34 381.78 767.27 381.62 763.23 381.28C759.19 380.94 755.14 380.42 751.15 379.71C747.15 379 743.17 378.11 739.27 377.02C735.37 375.92 731.51 374.61 727.74 373.15C723.96 371.69 720.27 370.01 716.64 368.24C713 366.47 709.45 364.54 705.95 362.53C702.45 360.53 698.98 358.44 695.62 356.21C692.26 353.98 688.93 351.64 685.76 349.13C682.59 346.62 679.51 343.95 676.62 341.12C673.72 338.3 670.98 335.28 668.39 332.18C665.8 329.07 663.37 325.81 661.07 322.48C658.77 319.16 656.61 315.72 654.59 312.23C652.57 308.73 650.66 305.15 648.93 301.5C647.2 297.85 645.6 294.12 644.19 290.34C642.78 286.55 641.52 282.69 640.46 278.79C639.4 274.89 638.51 270.93 637.8 266.95C637.09 262.97 636.56 258.95 636.21 254.92C635.86 250.9 635.68 246.84 635.7 242.8C635.72 238.76 635.92 234.71 636.3 230.69C636.68 226.67 637.26 222.65 637.98 218.68C638.71 214.71 639.6 210.76 640.65 206.86C641.71 202.97 642.95 199.11 644.33 195.32C645.71 191.52 647.29 187.79 648.95 184.11C650.62 180.43 652.44 176.82 654.33 173.22C656.22 169.63 658.17 166.06 660.28 162.57C662.39 159.07 664.57 155.58 666.99 152.26C669.41 148.94 672.01 145.7 674.78 142.65C677.55 139.59 680.53 136.69 683.63 133.94C686.73 131.2 689.98 128.58 693.36 126.18C696.74 123.78 700.26 121.52 703.9 119.53C707.54 117.55 711.34 115.81 715.18 114.27C719.03 112.73 722.99 111.47 726.95 110.3C730.9 109.13 734.9 108.13 738.91 107.24C742.91 106.34 746.93 105.55 750.98 104.93C755.02 104.31 759.09 103.84 763.16 103.52C767.23 103.21 771.32 103.07 775.4 103.05Z" stroke="#800000"/></g></g>
<g><text x="194.4" y="490.6" font-family="Liberation Serif, serif" font-size="15.9" fill="#141414" stroke="#141414" stroke-width="0.3" textLength="293.1" lengthAdjust="spacingAndGlyphs">Far-field amplitude of Antenna 1-H.nsi</text><rect x="183.12" y="499.5" width="32.8" height="6.1" fill="#ff0000" stroke="#1a1a1a" stroke-width="0.9"/><text x="199.52" y="518.6" text-anchor="middle" font-family="Liberation Sans, sans-serif" font-size="11.3" fill="#262626" stroke="#262626" stroke-width="0.3" textLength="76.2" lengthAdjust="spacingAndGlyphs" xml:space="preserve">4.900000  GHz</text><rect x="322.75" y="499.5" width="32.8" height="6.1" fill="#38088c" stroke="#1a1a1a" stroke-width="0.9"/><text x="339.15" y="518.6" text-anchor="middle" font-family="Liberation Sans, sans-serif" font-size="11.3" fill="#262626" stroke="#262626" stroke-width="0.3" textLength="76.2" lengthAdjust="spacingAndGlyphs" xml:space="preserve">5.150000  GHz</text><rect x="462.38" y="499.5" width="32.8" height="6.1" fill="#800000" stroke="#1a1a1a" stroke-width="0.9"/><text x="478.78" y="518.6" text-anchor="middle" font-family="Liberation Sans, sans-serif" font-size="11.3" fill="#262626" stroke="#262626" stroke-width="0.3" textLength="76.2" lengthAdjust="spacingAndGlyphs" xml:space="preserve">5.250000  GHz</text><rect x="183.12" y="522.8" width="32.8" height="6.1" fill="#cc0088" stroke="#1a1a1a" stroke-width="0.9"/><text x="199.52" y="541.8" text-anchor="middle" font-family="Liberation Sans, sans-serif" font-size="11.3" fill="#262626" stroke="#262626" stroke-width="0.3" textLength="76.2" lengthAdjust="spacingAndGlyphs" xml:space="preserve">5.350000  GHz</text><rect x="322.75" y="522.8" width="32.8" height="6.1" fill="#80e080" stroke="#1a1a1a" stroke-width="0.9"/><text x="339.15" y="541.8" text-anchor="middle" font-family="Liberation Sans, sans-serif" font-size="11.3" fill="#262626" stroke="#262626" stroke-width="0.3" textLength="76.2" lengthAdjust="spacingAndGlyphs" xml:space="preserve">5.725000  GHz</text><rect x="462.38" y="522.8" width="32.8" height="6.1" fill="#6f8a00" stroke="#1a1a1a" stroke-width="0.9"/><text x="478.78" y="541.8" text-anchor="middle" font-family="Liberation Sans, sans-serif" font-size="11.3" fill="#262626" stroke="#262626" stroke-width="0.3" textLength="76.2" lengthAdjust="spacingAndGlyphs" xml:space="preserve">5.825000  GHz</text><rect x="129.7" y="544.1" width="418.9" height="352.4" fill="none" stroke="#3c3c3c" stroke-width="1.25"/><g fill="none" stroke="#1c1c1c" stroke-width="0.98"><ellipse cx="338.7" cy="720" rx="42" ry="41.83"/><ellipse cx="338.7" cy="720" rx="84" ry="83.65"/><ellipse cx="338.7" cy="720" rx="126" ry="125.48"/><ellipse cx="338.7" cy="720" rx="168" ry="167.3" stroke-width="0.98"/><path d="M338.7 720L382.18 558.4M338.7 720L422.7 575.11M338.7 720L484.19 636.35M338.7 720L500.98 676.7M338.7 720L500.98 763.3M338.7 720L484.19 803.65M338.7 720L422.7 864.89M338.7 720L382.18 881.6M338.7 720L295.22 881.6M338.7 720L254.7 864.89M338.7 720L193.21 803.65M338.7 720L176.42 763.3M338.7 720L176.42 676.7M338.7 720L193.21 636.35M338.7 720L254.7 575.11M338.7 720L295.22 558.4"/><path d="M338.85 720.15L457.64 601.85" stroke-width="1.0"/><path d="M338.85 719.85L457.64 838.15" stroke-width="1.0"/><path d="M338.85 720.15L220.06 838.45" stroke-width="1.0"/><path d="M338.85 719.85L220.06 601.55" stroke-width="1.3"/><path d="M338.5 552.7L338.5 887.3" stroke="#0a0a0a" stroke-width="1"/><path d="M170.7 720L506.7 720" stroke="#161616" stroke-width="1.25"/><path d="M353.34 553.34L353.04 556.74M367.87 555.24L367.28 558.6M396.16 562.79L394.99 566M409.7 568.37L408.25 571.47M435.06 582.96L433.1 585.75M446.69 591.84L444.49 594.45M467.4 612.46L464.77 614.66M476.32 624.04L473.51 626M490.96 649.3L487.85 650.74M496.57 662.78L493.35 663.95M504.15 690.95L500.77 691.54M506.06 705.42L502.65 705.72M506.06 734.58L502.65 734.28M504.15 749.05L500.77 748.46M496.57 777.22L493.35 776.05M490.96 790.7L487.85 789.26M476.32 815.96L473.51 814M467.4 827.54L464.77 825.34M446.69 848.16L444.49 845.55M435.06 857.04L433.1 854.25M409.7 871.63L408.25 868.53M396.16 877.21L394.99 874M367.87 884.76L367.28 881.4M353.34 886.66L353.04 883.26M324.06 886.66L324.36 883.26M309.53 884.76L310.12 881.4M281.24 877.21L282.41 874M267.7 871.63L269.15 868.53M242.34 857.04L244.3 854.25M230.71 848.16L232.91 845.55M210 827.54L212.63 825.34M201.08 815.96L203.89 814M186.44 790.7L189.55 789.26M180.83 777.22L184.05 776.05M173.25 749.05L176.63 748.46M171.34 734.58L174.75 734.28M171.34 705.42L174.75 705.72M173.25 690.95L176.63 691.54M180.83 662.78L184.05 663.95M186.44 649.3L189.55 650.74M201.08 624.04L203.89 626M210 612.46L212.63 614.66M230.71 591.84L232.91 594.45M242.34 582.96L244.3 585.75M267.7 568.37L269.15 571.47M281.24 562.79L282.41 566M309.53 555.24L310.12 558.6M324.06 553.34L324.36 556.74" stroke-width="0.9"/><path d="M347.1 718.75L347.1 721.25M355.5 718.75L355.5 721.25M363.9 718.75L363.9 721.25M372.3 718.75L372.3 721.25M380.7 718.75L380.7 721.25M389.1 718.75L389.1 721.25M397.5 718.75L397.5 721.25M405.9 718.75L405.9 721.25M414.3 718.75L414.3 721.25M422.7 718.75L422.7 721.25M431.1 718.75L431.1 721.25M439.5 718.75L439.5 721.25M447.9 718.75L447.9 721.25M456.3 718.75L456.3 721.25M464.7 718.75L464.7 721.25M473.1 718.75L473.1 721.25M481.5 718.75L481.5 721.25M489.9 718.75L489.9 721.25M498.3 718.75L498.3 721.25" stroke="#000" stroke-width="0.75"/><path d="M336.7 678.17L340.3 678.17M336.7 761.83L340.3 761.83M336.7 636.35L340.3 636.35M336.7 803.65L340.3 803.65M336.7 594.52L340.3 594.52M336.7 845.48L340.3 845.48" stroke="#000" stroke-width="1"/></g><g font-family="Liberation Sans, sans-serif" font-size="8.1" fill="#262626" stroke="#262626" stroke-width="0.3"><text x="336.42" y="550.3" textLength="4.56" lengthAdjust="spacingAndGlyphs">0</text><text x="382.48" y="556.9" textLength="9.12" lengthAdjust="spacingAndGlyphs">15</text><text x="423" y="573.61" textLength="9.12" lengthAdjust="spacingAndGlyphs">30</text><text x="457.79" y="600.2" textLength="9.12" lengthAdjust="spacingAndGlyphs">45</text><text x="484.49" y="634.85" textLength="9.12" lengthAdjust="spacingAndGlyphs">60</text><text x="501.28" y="675.2" textLength="9.12" lengthAdjust="spacingAndGlyphs">75</text><text x="507.2" y="722.9" textLength="9.12" lengthAdjust="spacingAndGlyphs">90</text><text x="501.28" y="770.1" textLength="13.68" lengthAdjust="spacingAndGlyphs">105</text><text x="484.49" y="810.45" textLength="13.68" lengthAdjust="spacingAndGlyphs">120</text><text x="457.79" y="845.1" textLength="13.68" lengthAdjust="spacingAndGlyphs">135</text><text x="423" y="871.69" textLength="13.68" lengthAdjust="spacingAndGlyphs">150</text><text x="382.48" y="888.4" textLength="13.68" lengthAdjust="spacingAndGlyphs">165</text><text x="331.86" y="894.3" textLength="13.68" lengthAdjust="spacingAndGlyphs">180</text><text x="281.44" y="888.4" textLength="13.68" lengthAdjust="spacingAndGlyphs">195</text><text x="240.92" y="871.69" textLength="13.68" lengthAdjust="spacingAndGlyphs">210</text><text x="206.13" y="845.1" textLength="13.68" lengthAdjust="spacingAndGlyphs">225</text><text x="179.43" y="810.45" textLength="13.68" lengthAdjust="spacingAndGlyphs">240</text><text x="162.65" y="770.1" textLength="13.68" lengthAdjust="spacingAndGlyphs">255</text><text x="156.52" y="722.9" textLength="13.68" lengthAdjust="spacingAndGlyphs">270</text><text x="162.65" y="675.2" textLength="13.68" lengthAdjust="spacingAndGlyphs">285</text><text x="179.43" y="634.85" textLength="13.68" lengthAdjust="spacingAndGlyphs">300</text><text x="206.13" y="600.2" textLength="13.68" lengthAdjust="spacingAndGlyphs">315</text><text x="240.92" y="573.61" textLength="13.68" lengthAdjust="spacingAndGlyphs">330</text><text x="281.44" y="556.9" textLength="13.68" lengthAdjust="spacingAndGlyphs">345</text><text x="375.08" y="729.23" textLength="11.85" lengthAdjust="spacingAndGlyphs">-20</text><text x="417.08" y="729.23" textLength="11.85" lengthAdjust="spacingAndGlyphs">-10</text><text x="462.52" y="729.23" textLength="4.56" lengthAdjust="spacingAndGlyphs">0</text><text x="489.69" y="731.9" textLength="10.03" lengthAdjust="spacingAndGlyphs">dB</text></g><g fill="none" stroke-width="1.25" stroke-linejoin="round" stroke-linecap="round"><path d="M338.7 720C339.21 716.67 340.9 706.11 341.79 700C342.68 693.89 343.07 688.84 344.05 683.35C345.03 677.86 346.31 672.04 347.67 667.06C349.03 662.08 350.69 657.25 352.19 653.48C353.7 649.71 355.21 646.7 356.72 644.43C358.23 642.17 359.59 640.89 361.24 639.91C362.9 638.93 364.56 638.78 366.67 638.55C368.79 638.33 371.65 638.78 373.91 638.55C376.18 638.33 378.14 638.02 380.25 637.19C382.36 636.37 384.47 634.71 386.58 633.57C388.7 632.44 390.66 631.16 392.92 630.41C395.18 629.65 397.75 629.13 400.16 629.05C402.57 628.97 404.98 629.28 407.4 629.95C409.81 630.63 412.22 631.84 414.64 633.12C417.05 634.4 419.77 636.06 421.88 637.65C423.99 639.23 426.03 640.74 427.31 642.62C428.59 644.51 429.34 646.7 429.57 648.96C429.8 651.22 429.34 653.79 428.67 656.2C427.99 658.61 426.78 660.87 425.5 663.44C424.22 666 422.63 669.02 420.97 671.58C419.31 674.15 417.5 676.56 415.54 678.82C413.58 681.09 411.17 683.2 409.21 685.16C407.25 687.12 405.06 689.16 403.78 690.59C402.5 692.02 401.89 693.23 401.52 693.76L401.52 693.76C402.5 693.76 404.91 693.98 407.4 693.76C409.89 693.53 413.43 692.7 416.45 692.4C419.46 692.1 422.41 691.98 425.5 691.95C428.59 691.92 431.74 691.88 435 692.22C438.26 692.56 441.69 693.09 445.05 693.98C448.41 694.88 451.81 696.04 455.19 697.6C458.56 699.17 462.43 701.35 465.32 703.4C468.22 705.45 470.51 707.62 472.56 709.91C474.61 712.21 476.54 715.47 477.63 717.15C478.72 718.83 478.96 718.05 479.08 719.99C479.2 721.94 478.96 725.66 478.35 728.82C477.75 731.99 476.66 735.82 475.46 738.96C474.25 742.1 472.8 744.75 471.11 747.65C469.42 750.54 467.49 753.68 465.32 756.34C463.15 758.99 460.74 761.65 458.08 763.58C455.43 765.51 452.53 766.83 449.39 767.92C446.26 769.01 442.64 769.85 439.26 770.09C435.88 770.33 432.5 769.85 429.12 769.37C425.74 768.89 422.36 768.16 418.98 767.2C415.61 766.23 412.23 765.02 408.85 763.58C405.47 762.13 402.09 760.32 398.71 758.51C395.33 756.7 391.96 754.53 388.58 752.72C385.2 750.91 381.82 749.22 378.44 747.65C375.06 746.08 369.99 744.03 368.3 743.3L368.3 743.3C369.51 744.15 372.89 746.2 375.54 748.37C378.2 750.54 381.58 753.56 384.23 756.34C386.89 759.11 389.3 762.13 391.47 765.02C393.64 767.92 395.7 771.06 397.26 773.71C398.83 776.37 399.97 778.54 400.88 780.95C401.8 783.37 402.65 786.02 402.77 788.19C402.89 790.36 402.28 792.3 401.61 793.98C400.93 795.67 400.16 797.17 398.71 798.33C397.26 799.49 395.09 800.33 392.92 800.94C390.75 801.54 388.09 802.02 385.68 801.95C383.27 801.88 380.85 801.35 378.44 800.5C376.03 799.66 373.61 798.45 371.2 796.88C368.79 795.31 366.37 793.26 363.96 791.09C361.55 788.92 358.89 786.74 356.72 783.85C354.55 780.95 352.74 777.57 350.93 773.71C349.12 769.85 347.31 765.27 345.86 760.68C344.41 756.1 343.21 751.03 342.24 746.2C341.27 741.37 340.66 736.09 340.07 731.72C339.48 727.35 338.93 721.95 338.7 720L338.7 720C338.29 722.68 337.23 730.73 336.21 736.06C335.2 741.4 334.16 746.92 332.59 751.99C331.03 757.06 328.97 761.89 326.8 766.47C324.63 771.06 321.97 775.64 319.56 779.5C317.15 783.37 314.73 786.74 312.32 789.64C309.91 792.54 307.49 794.83 305.08 796.88C302.67 798.93 300.25 800.79 297.84 801.95C295.43 803.11 293.01 803.71 290.6 803.83C288.19 803.95 285.77 803.59 283.36 802.67C280.95 801.76 278.05 800.02 276.12 798.33C274.19 796.64 272.74 794.71 271.78 792.54C270.81 790.36 270.45 787.71 270.33 785.3C270.21 782.88 270.33 780.47 271.05 778.06C271.78 775.64 273.1 773.23 274.67 770.82C276.24 768.4 278.53 765.99 280.47 763.58C282.4 761.16 284.81 758.39 286.26 756.34C287.71 754.29 288.67 752.11 289.15 751.27L289.15 751.27C288.19 751.58 285.77 752.31 283.36 753.15C280.95 754 277.81 755.32 274.67 756.34C271.54 757.35 267.92 758.39 264.54 759.23C261.16 760.08 258.02 760.87 254.4 761.4C250.78 761.94 246.68 762.35 242.82 762.42C238.96 762.49 234.85 762.37 231.23 761.84C227.61 761.31 224.11 760.39 221.1 759.23C218.08 758.07 215.55 756.82 213.13 754.89C210.72 752.96 208.55 750.3 206.62 747.65C204.69 744.99 203 742.1 201.55 738.96C200.1 735.82 198.65 731.99 197.93 728.82C197.2 725.66 196.96 722.9 197.2 719.99C197.45 717.08 198.29 714.01 199.38 711.36C200.46 708.72 202.03 706.53 203.72 704.12C205.41 701.71 207.34 699.05 209.51 696.88C211.68 694.71 214.1 692.9 216.75 691.09C219.41 689.28 222.54 687.35 225.44 686.02C228.34 684.69 230.99 683.9 234.13 683.12C237.27 682.35 240.89 681.63 244.26 681.39C247.64 681.15 251.02 681.39 254.4 681.68C257.78 681.97 261.16 682.4 264.54 683.12C267.92 683.85 271.54 684.93 274.67 686.02C277.81 687.11 280.51 688.51 283.36 689.64C286.21 690.78 290.36 692.3 291.76 692.83L291.76 692.83C291.45 692.3 291.28 691.38 289.88 689.64C288.48 687.9 285.65 685.06 283.36 682.4C281.07 679.75 278.29 676.37 276.12 673.71C273.95 671.06 272.02 668.89 270.33 666.47C268.64 664.06 267.07 661.65 265.98 659.23C264.9 656.82 264.1 654.65 263.81 651.99C263.52 649.34 263.64 645.96 264.25 643.3C264.85 640.65 265.94 638.24 267.43 636.06C268.93 633.89 271.05 631.84 273.23 630.27C275.4 628.7 278.05 627.5 280.47 626.65C282.88 625.81 285.05 625.08 287.71 625.2C290.36 625.32 293.5 626.29 296.39 627.38C299.29 628.46 302.43 630.15 305.08 631.72C307.74 633.29 309.91 634.86 312.32 636.79C314.73 638.72 317.15 641.01 319.56 643.3C321.97 645.6 324.63 648.37 326.8 650.54C328.97 652.72 331.03 654.16 332.59 656.34C334.16 658.51 335.25 660.44 336.21 663.58C337.18 666.71 337.98 669.61 338.39 675.16C338.8 680.71 338.62 689.41 338.68 696.88C338.73 704.35 338.7 716.15 338.7 720" stroke="#ff0000"/><path d="M338.7 720C339.44 716.67 341.95 705.35 343.14 700C344.34 694.65 344.8 692.16 345.86 687.87C346.92 683.59 348.12 678.52 349.48 674.3C350.84 670.08 352.5 666 354 662.53C355.51 659.06 356.87 656.35 358.53 653.48C360.19 650.62 362.15 647.75 363.96 645.34C365.77 642.93 367.58 640.81 369.39 639C371.2 637.19 373.01 635.69 374.82 634.48C376.63 633.27 378.44 632.29 380.25 631.76C382.06 631.24 383.87 631.31 385.68 631.31C387.49 631.31 389 631.39 391.11 631.76C393.22 632.14 395.94 633.2 398.35 633.57C400.76 633.95 403.33 633.73 405.59 634.03C407.85 634.33 409.96 634.63 411.92 635.38C413.88 636.14 415.77 637.19 417.35 638.55C418.94 639.91 420.37 641.64 421.43 643.53C422.48 645.41 423.24 647.75 423.69 649.86C424.14 651.98 424.44 654.09 424.14 656.2C423.84 658.31 422.93 660.42 421.88 662.53C420.82 664.65 419.31 666.91 417.81 668.87C416.3 670.83 414.56 672.64 412.83 674.3C411.09 675.96 409.21 677.32 407.4 678.82C405.59 680.33 403.78 681.92 401.97 683.35C400.16 684.78 398.35 686.06 396.54 687.42C394.73 688.78 392.92 690.21 391.11 691.49C389.3 692.78 387.49 693.91 385.68 695.11C383.87 696.32 381.7 697.59 380.25 698.73C378.8 699.87 378.31 701.12 376.99 701.95C375.68 702.77 373.13 703.4 372.36 703.69L372.36 703.69C373.86 703.08 377.91 701.44 381.34 700.07C384.76 698.69 389.06 696.81 392.92 695.43C396.78 694.06 400.64 692.83 404.5 691.81C408.37 690.8 412.23 689.95 416.09 689.35C419.95 688.75 423.81 688.43 427.67 688.19C431.53 687.95 435.64 687.71 439.26 687.9C442.88 688.1 446.26 688.53 449.39 689.35C452.53 690.17 455.43 691.45 458.08 692.83C460.74 694.2 463.03 695.72 465.32 697.6C467.61 699.49 470.03 701.83 471.84 704.12C473.65 706.41 474.78 708.95 476.18 711.36C477.58 713.77 479.44 717.16 480.24 718.6C481.03 720.04 480.91 718.29 480.96 719.99C481.01 721.7 480.96 725.66 480.53 728.82C480.09 731.99 479.44 735.94 478.35 738.96C477.27 741.98 475.7 744.51 474.01 746.92C472.32 749.34 470.63 751.63 468.22 753.44C465.8 755.25 462.67 756.7 459.53 757.78C456.39 758.87 452.77 759.52 449.39 759.96C446.01 760.39 442.64 760.51 439.26 760.39C435.88 760.27 432.5 759.91 429.12 759.23C425.74 758.56 422.36 757.42 418.98 756.34C415.61 755.25 412.23 753.92 408.85 752.72C405.47 751.51 402.09 750.42 398.71 749.1C395.33 747.77 391.96 746.08 388.58 744.75C385.2 743.43 381.7 742.34 378.44 741.13C375.18 739.93 370.6 738.12 369.03 737.51L369.03 737.51C370.36 738.48 374.22 741.25 376.99 743.3C379.77 745.36 382.78 747.41 385.68 749.82C388.58 752.23 391.47 755.01 394.37 757.78C397.26 760.56 400.64 763.82 403.06 766.47C405.47 769.13 407.28 771.3 408.85 773.71C410.42 776.13 411.62 778.54 412.47 780.95C413.31 783.37 413.8 785.78 413.92 788.19C414.04 790.61 414.04 793.26 413.19 795.43C412.35 797.6 410.78 799.66 408.85 801.23C406.92 802.79 404.26 804.07 401.61 804.85C398.95 805.62 395.82 805.74 392.92 805.86C390.02 805.98 387.13 805.98 384.23 805.57C381.34 805.16 378.44 804.48 375.54 803.4C372.65 802.31 369.51 800.86 366.86 799.05C364.2 797.24 362.03 795.31 359.62 792.54C357.2 789.76 354.43 786.02 352.38 782.4C350.32 778.78 348.88 775.16 347.31 770.82C345.74 766.47 344.1 761.65 342.96 756.34C341.83 751.03 341.21 745.02 340.5 738.96C339.79 732.9 339 723.16 338.7 720L338.7 720C338.29 722.44 337.23 729.53 336.21 734.62C335.2 739.71 334.16 745.48 332.59 750.54C331.03 755.61 328.97 760.44 326.8 765.02C324.63 769.61 321.97 774.2 319.56 778.06C317.15 781.92 314.73 785.54 312.32 788.19C309.91 790.85 307.49 792.42 305.08 793.98C302.67 795.55 300.25 796.69 297.84 797.6C295.43 798.52 293.01 799.25 290.6 799.49C288.19 799.73 286.02 799.49 283.36 799.05C280.71 798.62 277.57 797.48 274.67 796.88C271.78 796.28 268.64 796.28 265.98 795.43C263.33 794.59 259.95 792.42 258.74 791.81L258.74 791.81C258.62 791.21 257.9 790 258.02 788.19C258.14 786.38 258.62 783.61 259.47 780.95C260.31 778.3 261.28 775.16 263.09 772.26C264.9 769.37 267.43 766.47 270.33 763.58C273.23 760.68 276.85 757.78 280.47 754.89C284.09 751.99 288.19 748.86 292.05 746.2C295.91 743.55 299.77 741.37 303.63 738.96C307.49 736.55 311.36 733.89 315.22 731.72C319.08 729.55 322.89 727.88 326.8 725.93C330.72 723.97 336.72 720.99 338.7 720L338.7 720C336.72 720.75 330.72 723.01 326.8 724.48C322.89 725.95 319.32 727.13 315.22 728.82C311.11 730.51 306.53 732.56 302.19 734.62C297.84 736.67 293.26 739.2 289.15 741.13C285.05 743.06 281.19 744.75 277.57 746.2C273.95 747.65 270.81 748.86 267.43 749.82C264.05 750.79 260.68 751.39 257.3 751.99C253.92 752.6 250.54 753.2 247.16 753.44C243.78 753.68 240.4 753.68 237.02 753.44C233.65 753.2 230.27 752.72 226.89 751.99C223.51 751.27 219.89 750.54 216.75 749.1C213.62 747.65 210.6 745.48 208.06 743.3C205.53 741.13 203.36 738.72 201.55 736.06C199.74 733.41 198.29 730.27 197.2 727.38C196.12 724.48 195.51 721.58 195.03 718.69C194.55 715.79 194.19 711.95 194.31 710C194.43 708.05 194.91 708.96 195.76 707.02C196.6 705.07 197.81 700.98 199.38 698.33C200.94 695.67 203 693.26 205.17 691.09C207.34 688.92 209.75 686.99 212.41 685.3C215.06 683.61 218.2 682.16 221.1 680.95C223.99 679.75 226.65 678.78 229.78 678.06C232.92 677.33 236.54 676.85 239.92 676.61C243.3 676.37 246.68 676.37 250.06 676.61C253.44 676.85 256.81 677.33 260.19 678.06C263.57 678.78 266.95 679.75 270.33 680.95C273.71 682.16 277.21 683.85 280.47 685.3C283.72 686.74 288.31 688.92 289.88 689.64L289.88 689.64C289.03 688.92 286.86 687.23 284.81 685.3C282.76 683.37 279.98 680.71 277.57 678.06C275.16 675.4 272.5 672.02 270.33 669.37C268.16 666.71 266.11 664.54 264.54 662.13C262.97 659.72 261.64 657.3 260.92 654.89C260.19 652.48 259.83 650.06 260.19 647.65C260.55 645.24 261.64 642.46 263.09 640.41C264.54 638.36 266.71 636.79 268.88 635.34C271.05 633.89 273.47 632.69 276.12 631.72C278.78 630.75 281.91 630.08 284.81 629.55C287.71 629.02 290.6 628.53 293.5 628.53C296.39 628.53 299.29 628.78 302.19 629.55C305.08 630.32 307.98 631.36 310.87 633.17C313.77 634.98 316.91 637.75 319.56 640.41C322.22 643.06 324.63 645.96 326.8 649.1C328.97 652.23 331.03 654.89 332.59 659.23C334.16 663.58 335.37 668.89 336.21 675.16C337.06 681.44 337.25 689.41 337.66 696.88C338.08 704.35 338.53 716.15 338.7 720" stroke="#38088c"/><path d="M338.7 720C339.14 716.67 340.44 706.41 341.33 700C342.23 693.59 342.84 687.18 344.05 681.54C345.26 675.9 346.76 670.38 348.57 666.15C350.38 661.93 352.65 658.91 354.91 656.2C357.17 653.48 359.74 651.98 362.15 649.86C364.56 647.75 366.98 645.41 369.39 643.53C371.8 641.64 373.91 639.83 376.63 638.55C379.34 637.27 383.27 636.52 385.68 635.84C388.09 635.16 389.3 634.63 391.11 634.48C392.92 634.33 394.73 634.56 396.54 634.93C398.35 635.31 400.16 635.91 401.97 636.74C403.78 637.57 405.81 638.63 407.4 639.91C408.98 641.19 410.49 642.93 411.47 644.43C412.45 645.94 413.05 647.3 413.28 648.96C413.51 650.62 413.21 652.58 412.83 654.39C412.45 656.2 411.77 658.01 411.02 659.82C410.26 661.63 409.36 663.44 408.3 665.25C407.25 667.06 405.89 668.87 404.68 670.68C403.48 672.49 402.27 674.45 401.06 676.11C399.86 677.77 398.8 679.13 397.44 680.63C396.09 682.14 394.43 683.65 392.92 685.16C391.41 686.67 389.9 688.25 388.39 689.68C386.89 691.12 385.38 692.55 383.87 693.76C382.36 694.96 380.1 696.4 379.34 696.92L379.34 696.92C380.4 696.4 383.42 694.74 385.68 693.76C387.94 692.78 390.51 691.87 392.92 691.04C395.33 690.21 397.75 689.53 400.16 688.78C402.57 688.02 404.98 687.19 407.4 686.52C409.81 685.84 412.22 685.16 414.64 684.71C417.05 684.25 419.46 684.06 421.88 683.8C424.29 683.54 425.74 683.11 429.12 683.17C432.5 683.22 438.53 683.78 442.15 684.14C445.77 684.49 447.95 684.5 450.84 685.3C453.74 686.09 456.87 687.47 459.53 688.92C462.18 690.36 464.6 692.05 466.77 693.98C468.94 695.92 470.87 698.09 472.56 700.5C474.25 702.91 475.7 705.69 476.91 708.47C478.11 711.24 479.25 715.23 479.8 717.15C480.36 719.07 480.24 718.29 480.24 719.99C480.24 721.7 480.24 724.94 479.8 727.38C479.37 729.81 478.72 732.2 477.63 734.62C476.54 737.03 475.1 739.68 473.29 741.86C471.48 744.03 469.3 746.08 466.77 747.65C464.24 749.22 461.22 750.35 458.08 751.27C454.94 752.19 451.32 752.79 447.95 753.15C444.57 753.51 441.19 753.51 437.81 753.44C434.43 753.37 431.05 753.01 427.67 752.72C424.29 752.43 420.92 752.11 417.54 751.7C414.16 751.29 410.54 750.69 407.4 750.25C404.26 749.82 400.16 749.29 398.71 749.1L398.71 749.1C399.68 749.82 402.33 751.51 404.5 753.44C406.68 755.37 409.57 758.27 411.74 760.68C413.92 763.09 415.85 765.51 417.54 767.92C419.23 770.33 420.87 772.75 421.88 775.16C422.89 777.57 423.5 780.23 423.62 782.4C423.74 784.57 423.38 786.5 422.6 788.19C421.83 789.88 420.43 791.33 418.98 792.54C417.54 793.74 415.36 794.23 413.92 795.43C412.47 796.64 411.87 798.45 410.3 799.78C408.73 801.1 406.68 802.55 404.5 803.4C402.33 804.24 399.92 804.6 397.26 804.85C394.61 805.09 391.47 805.21 388.58 804.85C385.68 804.48 382.78 803.76 379.89 802.67C376.99 801.59 373.86 800.02 371.2 798.33C368.55 796.64 366.37 794.95 363.96 792.54C361.55 790.12 359.13 787.23 356.72 783.85C354.31 780.47 351.53 776.37 349.48 772.26C347.43 768.16 345.86 764.06 344.41 759.23C342.96 754.41 341.74 749.84 340.79 743.3C339.84 736.77 339.05 723.88 338.7 720L338.7 720C338.53 720.75 338.44 721.32 337.66 724.48C336.89 727.64 335.37 734.13 334.04 738.96C332.71 743.79 331.39 749.1 329.7 753.44C328.01 757.78 326.08 761.16 323.91 765.02C321.73 768.89 319.08 773.23 316.67 776.61C314.25 779.99 311.84 782.88 309.43 785.3C307.01 787.71 304.6 789.64 302.19 791.09C299.77 792.54 297.6 793.26 294.95 793.98C292.29 794.71 289.39 795 286.26 795.43C283.12 795.87 279.26 796.47 276.12 796.59C272.98 796.71 270.09 796.59 267.43 796.16C264.78 795.72 262.36 795.07 260.19 793.98C258.02 792.9 255.97 791.33 254.4 789.64C252.83 787.95 251.55 785.78 250.78 783.85C250.01 781.92 249.77 779.99 249.77 778.06C249.77 776.13 250.01 774.2 250.78 772.26C251.55 770.33 252.83 768.64 254.4 766.47C255.97 764.3 258.26 761.4 260.19 759.23C262.12 757.06 264.3 755.37 265.98 753.44C267.67 751.51 269.6 748.61 270.33 747.65L270.33 747.65C269.97 747.29 269.85 745.84 268.16 745.48C266.47 745.11 263.21 745.4 260.19 745.48C257.18 745.55 253.44 745.91 250.06 745.91C246.68 745.91 243.3 745.79 239.92 745.48C236.54 745.16 233.16 744.75 229.78 744.03C226.41 743.3 222.79 742.22 219.65 741.13C216.51 740.05 213.62 739.08 210.96 737.51C208.31 735.94 205.77 733.89 203.72 731.72C201.67 729.55 199.98 726.89 198.65 724.48C197.32 722.07 196.48 719.65 195.76 717.24C195.03 714.83 194.19 712.43 194.31 710C194.43 707.57 195.39 705.1 196.48 702.67C197.57 700.25 198.89 697.85 200.82 695.43C202.75 693.02 205.41 690.36 208.06 688.19C210.72 686.02 213.86 683.97 216.75 682.4C219.65 680.83 222.3 679.87 225.44 678.78C228.58 677.69 232.2 676.54 235.58 675.88C238.96 675.23 242.09 674.87 245.71 674.87C249.33 674.87 253.44 675.23 257.3 675.88C261.16 676.54 265.02 677.45 268.88 678.78C272.74 680.11 276.56 681.88 280.47 683.85C284.37 685.82 288.81 688.55 292.32 690.6C295.83 692.64 298.14 693.97 301.52 696.12C304.89 698.26 309.18 701.18 312.56 703.48C315.93 705.78 318.69 707.77 321.76 709.92C324.82 712.06 328.13 714.68 330.96 716.36C333.78 718.04 337.41 719.39 338.7 720L338.7 720C337.41 719.55 333.78 718.65 330.96 717.28C328.13 715.9 324.82 713.75 321.76 711.76C318.69 709.76 315.62 707.77 312.56 705.32C309.49 702.86 306.12 699.64 303.36 697.04C300.6 694.43 298.45 692.44 296 689.68C293.54 686.92 290.94 683.24 288.64 680.48C286.34 677.72 284.19 675.73 282.2 673.12C280.21 670.51 278.21 667.6 276.68 664.84C275.15 662.08 273.77 659.17 273 656.56C272.23 653.95 271.92 651.41 272.08 649.2C272.24 646.99 272.79 645.25 273.95 643.3C275.11 641.36 276.97 639.08 279.02 637.51C281.07 635.94 283.6 634.62 286.26 633.89C288.91 633.17 292.05 633 294.95 633.17C297.84 633.34 300.74 633.94 303.63 634.91C306.53 635.87 309.67 637.32 312.32 638.96C314.98 640.6 317.15 642.34 319.56 644.75C321.97 647.17 324.63 649.58 326.8 653.44C328.97 657.3 331.03 661.89 332.59 667.92C334.16 673.95 335.3 682.4 336.21 689.64C337.13 696.88 337.68 706.3 338.1 711.36C338.51 716.42 338.6 718.56 338.7 720" stroke="#800000"/><path d="M338.7 720C339.37 716.67 341.65 706.86 342.69 700C343.73 693.14 343.97 684.92 344.95 678.82C345.94 672.73 347.37 667.51 348.57 663.44C349.78 659.37 350.99 656.8 352.19 654.39C353.4 651.98 354.46 650.24 355.81 648.96C357.17 647.68 358.68 647.22 360.34 646.7C362 646.17 363.96 646.09 365.77 645.79C367.58 645.49 369.39 645.41 371.2 644.89C373.01 644.36 374.82 643.38 376.63 642.62C378.44 641.87 380.25 640.97 382.06 640.36C383.87 639.76 385.83 639.23 387.49 639C389.15 638.78 390.66 638.7 392.01 639C393.37 639.31 394.65 639.83 395.63 640.81C396.61 641.79 397.29 643.38 397.9 644.89C398.5 646.4 398.65 648.28 399.25 649.86C399.86 651.45 400.99 653.03 401.52 654.39C402.04 655.75 402.5 656.5 402.42 658.01C402.35 659.52 401.89 661.63 401.06 663.44C400.23 665.25 398.8 666.91 397.44 668.87C396.09 670.83 394.58 673.09 392.92 675.2C391.26 677.32 389.45 679.43 387.49 681.54C385.53 683.65 383.27 685.91 381.15 687.87C379.04 689.83 376.78 691.64 374.82 693.3C372.86 694.96 370.72 696.51 369.39 697.83C368.06 699.15 368.49 699.81 366.86 701.23C365.23 702.64 361.91 704.85 359.62 706.29C357.32 707.74 354.19 709.31 353.1 709.91L353.1 709.91C354.91 708.71 360.22 705.33 363.96 702.67C367.7 700.02 371.92 696.52 375.54 693.98C379.16 691.45 382.3 689.4 385.68 687.47C389.06 685.54 392.2 683.97 395.82 682.4C399.44 680.83 403.78 679.34 407.4 678.06C411.02 676.78 414.16 675.57 417.54 674.73C420.92 673.88 424.29 673.33 427.67 672.99C431.05 672.65 434.43 672.58 437.81 672.7C441.19 672.82 444.81 672.94 447.95 673.71C451.08 674.48 453.98 675.88 456.63 677.33C459.29 678.78 461.7 680.47 463.87 682.4C466.05 684.33 467.86 686.5 469.67 688.92C471.48 691.33 473.41 694.11 474.73 696.88C476.06 699.66 476.83 702.67 477.63 705.57C478.43 708.47 479.2 711.85 479.51 714.26C479.83 716.66 479.83 717.8 479.51 719.99C479.2 722.18 478.55 725.06 477.63 727.38C476.71 729.69 475.58 731.96 474.01 733.89C472.44 735.82 470.39 737.51 468.22 738.96C466.05 740.41 463.63 741.57 460.98 742.58C458.32 743.59 455.43 744.44 452.29 745.04C449.15 745.65 445.53 746.01 442.15 746.2C438.77 746.39 435.4 746.32 432.02 746.2C428.64 746.08 425.26 745.77 421.88 745.48C418.5 745.19 414.88 744.78 411.74 744.46C408.61 744.15 404.5 743.74 403.06 743.59L403.06 743.59C404.02 744.39 406.68 746.49 408.85 748.37C411.02 750.25 413.68 752.6 416.09 754.89C418.5 757.18 421.16 759.72 423.33 762.13C425.5 764.54 427.62 766.96 429.12 769.37C430.62 771.78 431.82 774.44 432.31 776.61C432.79 778.78 432.55 780.71 432.02 782.4C431.49 784.09 430.33 785.42 429.12 786.74C427.91 788.07 426.47 789.28 424.78 790.36C423.09 791.45 420.92 792.42 418.98 793.26C417.05 794.11 415.12 794.88 413.19 795.43C411.26 795.99 409.81 796.4 407.4 796.59C404.99 796.78 401.61 796.78 398.71 796.59C395.82 796.4 392.92 796.11 390.02 795.43C387.13 794.76 384.23 793.74 381.34 792.54C378.44 791.33 375.54 789.88 372.65 788.19C369.75 786.5 366.62 784.57 363.96 782.4C361.31 780.23 359.13 778.06 356.72 775.16C354.31 772.26 351.53 768.64 349.48 765.02C347.43 761.4 345.86 757.78 344.41 753.44C342.96 749.1 341.74 744.53 340.79 738.96C339.84 733.39 339.05 723.16 338.7 720L338.7 720C338.53 720.99 338.44 722.77 337.66 725.93C336.89 729.09 335.37 734.62 334.04 738.96C332.71 743.3 331.39 747.89 329.7 751.99C328.01 756.1 326.08 759.72 323.91 763.58C321.73 767.44 319.08 771.78 316.67 775.16C314.25 778.54 311.84 781.44 309.43 783.85C307.01 786.26 304.6 788.19 302.19 789.64C299.77 791.09 297.84 791.98 294.95 792.54C292.05 793.09 288.19 792.78 284.81 792.97C281.43 793.16 278.05 793.65 274.67 793.7C271.29 793.74 267.67 793.82 264.54 793.26C261.4 792.71 258.5 791.69 255.85 790.36C253.19 789.04 250.78 787.11 248.61 785.3C246.44 783.49 244.26 781.44 242.82 779.5C241.37 777.57 240.28 775.64 239.92 773.71C239.56 771.78 240.16 769.85 240.64 767.92C241.13 765.99 241.73 764.06 242.82 762.13C243.9 760.2 245.23 758.27 247.16 756.34C249.09 754.41 251.75 752.48 254.4 750.54C257.06 748.61 260.92 746.49 263.09 744.75C265.26 743.01 266.71 740.89 267.43 740.12L267.43 740.12C266.47 740.12 264.3 740.12 261.64 740.12C258.99 740.12 254.88 740.19 251.5 740.12C248.13 740.05 244.75 740 241.37 739.68C237.99 739.37 234.61 738.96 231.23 738.24C227.85 737.51 224.23 736.67 221.1 735.34C217.96 734.01 214.94 732.08 212.41 730.27C209.87 728.46 207.7 726.65 205.89 724.48C204.08 722.31 202.51 719.65 201.55 717.24C200.58 714.83 200.1 712.67 200.1 710C200.1 707.33 200.7 704.38 201.55 701.23C202.39 698.07 203.6 694.23 205.17 691.09C206.74 687.95 208.79 685.06 210.96 682.4C213.13 679.75 215.79 677.09 218.2 675.16C220.61 673.23 222.79 671.95 225.44 670.82C228.1 669.68 230.99 668.84 234.13 668.36C237.27 667.87 240.89 667.75 244.26 667.92C247.64 668.09 251.61 668.89 254.4 669.37C257.2 669.85 258.4 670.12 261.04 670.82C263.68 671.52 267.17 672.58 270.24 673.58C273.31 674.58 276.37 675.65 279.44 676.8C282.51 677.95 285.57 678.95 288.64 680.48C291.7 682.01 294.46 683.7 297.84 686C301.21 688.3 305.2 691.21 308.88 694.28C312.56 697.34 316.54 701.33 319.92 704.4C323.29 707.46 325.99 710.08 329.12 712.68C332.25 715.28 337.1 718.78 338.7 720L338.7 720C337.1 718.93 332.25 715.89 329.12 713.6C325.99 711.3 322.98 709.15 319.92 706.24C316.85 703.32 313.48 699.18 310.72 696.12C307.96 693.05 305.81 690.6 303.36 687.84C300.9 685.08 298.3 682.32 296 679.56C293.7 676.8 291.55 673.89 289.56 671.28C287.57 668.67 285.57 666.37 284.04 663.92C282.51 661.47 281.2 659.01 280.36 656.56C279.52 654.11 279.32 651.17 278.98 649.2C278.63 647.23 278.05 646.22 278.29 644.75C278.54 643.29 279.38 641.62 280.47 640.41C281.55 639.2 283.12 638.24 284.81 637.51C286.5 636.79 288.43 636.31 290.6 636.06C292.77 635.82 295.43 635.7 297.84 636.06C300.25 636.43 302.67 637.27 305.08 638.24C307.49 639.2 309.91 640.29 312.32 641.86C314.73 643.43 317.15 645.24 319.56 647.65C321.97 650.06 324.75 652.96 326.8 656.34C328.85 659.72 330.42 663.09 331.87 667.92C333.32 672.75 334.52 679.26 335.49 685.3C336.46 691.33 337.13 698.34 337.66 704.12C338.2 709.9 338.53 717.35 338.7 720" stroke="#cc0088"/><path d="M338.7 720C340.04 716.67 344.97 704.6 346.76 700C348.56 695.4 348.42 695.17 349.48 692.4C350.54 689.62 351.89 686.06 353.1 683.35C354.31 680.63 355.51 678.07 356.72 676.11C357.93 674.15 358.83 673.09 360.34 671.58C361.85 670.08 363.96 668.42 365.77 667.06C367.58 665.7 369.39 664.65 371.2 663.44C373.01 662.23 374.82 661.1 376.63 659.82C378.44 658.54 380.25 657.1 382.06 655.75C383.87 654.39 385.68 652.96 387.49 651.67C389.3 650.39 391.11 649.03 392.92 648.05C394.73 647.07 396.54 646.43 398.35 645.79C400.16 645.16 401.97 644.56 403.78 644.25C405.59 643.95 407.4 643.88 409.21 643.98C411.02 644.09 412.83 644.66 414.64 644.89C416.45 645.11 418.26 645.29 420.07 645.34C421.88 645.38 423.69 645.28 425.5 645.16C427.31 645.04 429.6 644.73 430.93 644.62C432.26 644.5 431.59 644.08 433.47 644.46C435.34 644.85 439.26 645.55 442.15 646.92C445.05 648.3 448.19 650.67 450.84 652.72C453.5 654.77 455.91 657.06 458.08 659.23C460.25 661.4 462.18 663.34 463.87 665.75C465.56 668.16 466.89 670.94 468.22 673.71C469.54 676.49 470.99 679.5 471.84 682.4C472.68 685.3 473.16 688.19 473.29 691.09C473.41 693.98 473.04 696.88 472.56 699.78C472.08 702.67 471.23 706.76 470.39 708.47C469.54 710.17 468.82 708.54 467.49 710C466.17 711.46 464.48 715.07 462.43 717.24C460.37 719.41 457.84 721.22 455.19 723.03C452.53 724.84 449.39 726.53 446.5 728.1C443.6 729.67 440.58 731.12 437.81 732.44C435.03 733.77 431.17 735.46 429.85 736.06L429.85 736.06C430.09 736.79 430.21 738.72 431.29 740.41C432.38 742.1 434.31 744.03 436.36 746.2C438.41 748.37 441.43 750.79 443.6 753.44C445.77 756.1 447.95 759.23 449.39 762.13C450.84 765.02 451.85 768.16 452.29 770.82C452.72 773.47 452.72 775.64 452 778.06C451.28 780.47 449.59 783.25 447.95 785.3C446.3 787.35 444.33 788.92 442.15 790.36C439.98 791.81 437.57 793.14 434.91 793.98C432.26 794.83 429.12 795.31 426.23 795.43C423.33 795.55 420.19 795.31 417.54 794.71C414.88 794.11 412.71 792.9 410.3 791.81C407.88 790.73 405.47 789.4 403.06 788.19C400.64 786.99 397.99 785.3 395.82 784.57C393.64 783.85 391.35 783.61 390.02 783.85C388.7 784.09 388.46 784.81 387.85 786.02C387.25 787.23 387.01 789.52 386.4 791.09C385.8 792.66 385.2 794.11 384.23 795.43C383.27 796.76 382.06 798.21 380.61 799.05C379.16 799.9 377.35 800.5 375.54 800.5C373.73 800.5 371.92 800.02 369.75 799.05C367.58 798.09 364.93 796.76 362.51 794.71C360.1 792.66 357.56 790 355.27 786.74C352.98 783.49 350.69 779.5 348.76 775.16C346.83 770.82 345.02 765.99 343.69 760.68C342.36 755.37 341.62 750.08 340.79 743.3C339.96 736.52 339.05 723.88 338.7 720L338.7 720C338.29 722.68 337.11 730.73 336.21 736.06C335.32 741.4 334.4 747.41 333.32 751.99C332.23 756.58 331.03 759.72 329.7 763.58C328.37 767.44 327.04 771.3 325.35 775.16C323.66 779.02 321.49 783.37 319.56 786.74C317.63 790.12 315.7 793.14 313.77 795.43C311.84 797.73 309.91 799.29 307.98 800.5C306.05 801.71 304.12 802.55 302.19 802.67C300.25 802.79 297.72 802.19 296.39 801.23C295.07 800.26 294.95 798.57 294.22 796.88C293.5 795.19 293.14 792.42 292.05 791.09C290.96 789.76 289.64 789.4 287.71 788.92C285.77 788.43 282.64 788.55 280.47 788.19C278.29 787.83 276.36 787.23 274.67 786.74C272.98 786.26 272.26 785.35 270.33 785.3C268.4 785.25 265.74 786.02 263.09 786.46C260.43 786.89 257.06 787.61 254.4 787.9C251.75 788.19 249.57 788.39 247.16 788.19C244.75 788 242.33 787.47 239.92 786.74C237.51 786.02 235.09 785.3 232.68 783.85C230.27 782.4 227.25 780.23 225.44 778.06C223.63 775.88 222.54 773.23 221.82 770.82C221.1 768.4 220.86 766.23 221.1 763.58C221.34 760.92 222.3 757.54 223.27 754.89C224.23 752.23 225.32 749.94 226.89 747.65C228.46 745.36 230.51 743.18 232.68 741.13C234.85 739.08 237.75 737.03 239.92 735.34C242.09 733.65 244.75 731.72 245.71 731L245.71 731C245.47 730.75 245.71 730.39 244.26 729.55C242.82 728.7 239.68 727.26 237.02 725.93C234.37 724.6 231.23 723.03 228.34 721.58C225.44 720.14 222.18 719.17 219.65 717.24C217.11 715.31 214.82 712.67 213.13 710C211.44 707.33 210.48 704.14 209.51 701.23C208.55 698.31 207.7 695.43 207.34 692.54C206.98 689.64 206.98 686.74 207.34 683.85C207.7 680.95 208.67 677.82 209.51 675.16C210.36 672.51 211.08 670.33 212.41 667.92C213.74 665.51 215.55 662.97 217.48 660.68C219.41 658.39 221.7 656.34 223.99 654.16C226.29 651.99 228.58 649.58 231.23 647.65C233.89 645.72 236.78 644.03 239.92 642.58C243.06 641.13 246.68 639.81 250.06 638.96C253.44 638.12 256.81 637.8 260.19 637.51C263.57 637.22 266.95 637.1 270.33 637.22C273.71 637.34 277.09 637.71 280.47 638.24C283.84 638.77 287.22 639.32 290.6 640.41C293.98 641.49 297.6 643.18 300.74 644.75C303.87 646.32 306.53 647.65 309.43 649.82C312.32 651.99 315.46 654.77 318.11 657.78C320.77 660.8 323.18 664.3 325.35 667.92C327.53 671.54 329.46 675.64 331.15 679.5C332.84 683.37 334.33 686.99 335.49 691.09C336.65 695.19 337.56 699.3 338.1 704.12C338.63 708.94 338.6 717.35 338.7 720" stroke="#80e080"/><path d="M338.7 720C339.14 716.67 340.59 706.11 341.33 700C342.08 693.89 342.39 687.93 343.14 683.35C343.9 678.76 344.8 675.66 345.86 672.49C346.92 669.32 348.27 666.3 349.48 664.34C350.69 662.38 351.89 661.63 353.1 660.72C354.31 659.82 355.36 659.82 356.72 658.91C358.08 658.01 359.74 656.65 361.24 655.29C362.75 653.94 364.11 652.43 365.77 650.77C367.43 649.11 369.39 647.15 371.2 645.34C373.01 643.53 374.82 641.57 376.63 639.91C378.44 638.25 380.25 636.67 382.06 635.38C383.87 634.1 385.68 632.97 387.49 632.22C389.3 631.46 391.11 631.01 392.92 630.86C394.73 630.71 396.24 631.24 398.35 631.31C400.46 631.39 403.17 631.31 405.59 631.31C408 631.31 410.57 631.16 412.83 631.31C415.09 631.46 417.2 631.76 419.16 632.22C421.12 632.67 422.78 633.12 424.59 634.03C426.4 634.93 427.82 635.98 430.02 637.65C432.23 639.31 435.3 641.88 437.81 644.03C440.31 646.18 442.64 648.25 445.05 650.54C447.46 652.84 450.12 655.37 452.29 657.78C454.46 660.2 456.15 662.37 458.08 665.02C460.01 667.68 462.18 670.82 463.87 673.71C465.56 676.61 467.06 679.5 468.22 682.4C469.38 685.3 470.34 688.19 470.82 691.09C471.31 693.98 471.43 696.88 471.11 699.78C470.8 702.67 470.15 705.55 468.94 708.47C467.73 711.38 465.92 714.81 463.87 717.24C461.82 719.67 459.29 721.22 456.63 723.03C453.98 724.84 450.84 726.53 447.95 728.1C445.05 729.67 441.79 731.12 439.26 732.44C436.72 733.77 433.83 735.46 432.74 736.06L432.74 736.06C433.1 736.91 433.59 739.2 434.91 741.13C436.24 743.06 438.77 745.36 440.71 747.65C442.64 749.94 444.93 752.23 446.5 754.89C448.07 757.54 449.39 760.68 450.12 763.58C450.84 766.47 451.2 769.61 450.84 772.26C450.48 774.92 449.39 777.33 447.95 779.5C446.5 781.68 444.33 783.61 442.15 785.3C439.98 786.99 437.57 788.55 434.91 789.64C432.26 790.73 429.12 791.38 426.23 791.81C423.33 792.25 420.43 792.49 417.54 792.25C414.64 792.01 411.5 791.28 408.85 790.36C406.19 789.45 403.78 787.64 401.61 786.74C399.44 785.85 397.26 785.13 395.82 785.01C394.37 784.89 393.77 785.01 392.92 786.02C392.08 787.03 391.28 789.28 390.75 791.09C390.22 792.9 390.34 795.19 389.74 796.88C389.13 798.57 388.53 800.26 387.13 801.23C385.73 802.19 383.51 802.67 381.34 802.67C379.16 802.67 376.51 802.07 374.1 801.23C371.68 800.38 369.27 799.29 366.86 797.6C364.44 795.92 362.03 793.86 359.62 791.09C357.2 788.31 354.55 784.81 352.38 780.95C350.2 777.09 348.27 772.75 346.58 767.92C344.89 763.09 343.33 757.3 342.24 751.99C341.15 746.68 340.66 741.4 340.07 736.06C339.48 730.73 338.93 722.68 338.7 720L338.7 720C338.41 722.68 337.59 730.97 336.94 736.06C336.28 741.16 335.73 745.96 334.77 750.54C333.8 755.13 332.47 759.47 331.15 763.58C329.82 767.68 328.49 771.3 326.8 775.16C325.11 779.02 322.94 783.37 321.01 786.74C319.08 790.12 317.15 793.14 315.22 795.43C313.29 797.73 311.36 799.17 309.43 800.5C307.49 801.83 305.56 803.04 303.63 803.4C301.7 803.76 299.41 803.16 297.84 802.67C296.27 802.19 295.19 801.47 294.22 800.5C293.26 799.54 293.38 797.73 292.05 796.88C290.72 796.04 288.19 796.16 286.26 795.43C284.33 794.71 282.15 793.62 280.47 792.54C278.78 791.45 277.57 790.12 276.12 788.92C274.67 787.71 273.47 786.02 271.78 785.3C270.09 784.57 268.4 784.81 265.98 784.57C263.57 784.33 260.19 784.33 257.3 783.85C254.4 783.37 251.26 782.52 248.61 781.68C245.95 780.83 243.78 779.75 241.37 778.78C238.96 777.82 236.06 777.21 234.13 775.88C232.2 774.56 230.75 772.87 229.78 770.82C228.82 768.77 228.46 766.23 228.34 763.58C228.22 760.92 228.34 757.54 229.06 754.89C229.78 752.23 230.87 749.94 232.68 747.65C234.49 745.36 237.51 742.94 239.92 741.13C242.33 739.32 245.11 738.24 247.16 736.79C249.21 735.34 251.38 733.17 252.23 732.44L252.23 732.44C251.87 732.2 251.63 731.72 250.06 731C248.49 730.27 245.47 729.19 242.82 728.1C240.16 727.01 237.02 725.81 234.13 724.48C231.23 723.15 228.1 721.58 225.44 720.14C222.79 718.69 220.25 717.48 218.2 715.79C216.15 714.1 214.94 712.43 213.13 710C211.32 707.57 208.55 704.14 207.34 701.23C206.13 698.31 206.01 695.43 205.89 692.54C205.77 689.64 206.13 686.74 206.62 683.85C207.1 680.95 207.82 678.06 208.79 675.16C209.75 672.26 210.84 669.37 212.41 666.47C213.98 663.58 216.03 660.68 218.2 657.78C220.37 654.89 222.79 651.87 225.44 649.1C228.1 646.32 231.23 643.55 234.13 641.13C237.02 638.72 239.68 636.55 242.82 634.62C245.95 632.69 249.57 630.95 252.95 629.55C256.33 628.15 259.71 626.94 263.09 626.22C266.47 625.49 269.85 625.3 273.23 625.2C276.6 625.11 279.98 625.28 283.36 625.64C286.74 626 290.12 626.48 293.5 627.38C296.88 628.27 300.5 629.43 303.63 631C306.77 632.56 309.43 634.5 312.32 636.79C315.22 639.08 318.35 641.98 321.01 644.75C323.66 647.53 326.08 650.06 328.25 653.44C330.42 656.82 332.59 660.68 334.04 665.02C335.49 669.37 336.21 674.2 336.94 679.5C337.66 684.81 338.09 690.13 338.39 696.88C338.68 703.63 338.65 716.15 338.7 720" stroke="#6f8a00"/></g></g>
<g><text x="638.8" y="502.4" font-family="Liberation Serif, serif" font-size="15.5" fill="#141414" stroke="#141414" stroke-width="0.3" textLength="285.5" lengthAdjust="spacingAndGlyphs">Far-field amplitude of Antenna 1-V.nsi</text><rect x="628.12" y="511.3" width="31.8" height="5.5" fill="#ff0000" stroke="#1a1a1a" stroke-width="0.9"/><text x="644.02" y="529.6" text-anchor="middle" font-family="Liberation Sans, sans-serif" font-size="11" fill="#262626" stroke="#262626" stroke-width="0.3" textLength="74.8" lengthAdjust="spacingAndGlyphs" xml:space="preserve">4.900000  GHz</text><rect x="763.95" y="511.3" width="31.8" height="5.5" fill="#38088c" stroke="#1a1a1a" stroke-width="0.9"/><text x="779.85" y="529.6" text-anchor="middle" font-family="Liberation Sans, sans-serif" font-size="11" fill="#262626" stroke="#262626" stroke-width="0.3" textLength="74.8" lengthAdjust="spacingAndGlyphs" xml:space="preserve">5.150000  GHz</text><rect x="899.78" y="511.3" width="31.8" height="5.5" fill="#800000" stroke="#1a1a1a" stroke-width="0.9"/><text x="915.68" y="529.6" text-anchor="middle" font-family="Liberation Sans, sans-serif" font-size="11" fill="#262626" stroke="#262626" stroke-width="0.3" textLength="74.8" lengthAdjust="spacingAndGlyphs" xml:space="preserve">5.250000  GHz</text><rect x="628.12" y="534.1" width="31.8" height="5.5" fill="#cc0088" stroke="#1a1a1a" stroke-width="0.9"/><text x="644.02" y="552.2" text-anchor="middle" font-family="Liberation Sans, sans-serif" font-size="11" fill="#262626" stroke="#262626" stroke-width="0.3" textLength="74.8" lengthAdjust="spacingAndGlyphs" xml:space="preserve">5.350000  GHz</text><rect x="763.95" y="534.1" width="31.8" height="5.5" fill="#80e080" stroke="#1a1a1a" stroke-width="0.9"/><text x="779.85" y="552.2" text-anchor="middle" font-family="Liberation Sans, sans-serif" font-size="11" fill="#262626" stroke="#262626" stroke-width="0.3" textLength="74.8" lengthAdjust="spacingAndGlyphs" xml:space="preserve">5.725000  GHz</text><rect x="899.78" y="534.1" width="31.8" height="5.5" fill="#6f8a00" stroke="#1a1a1a" stroke-width="0.9"/><text x="915.68" y="552.2" text-anchor="middle" font-family="Liberation Sans, sans-serif" font-size="11" fill="#262626" stroke="#262626" stroke-width="0.3" textLength="74.8" lengthAdjust="spacingAndGlyphs" xml:space="preserve">5.825000  GHz</text><rect x="576.1" y="554.5" width="407.5" height="343.2" fill="none" stroke="#3c3c3c" stroke-width="1.25"/><g fill="none" stroke="#1c1c1c" stroke-width="0.98"><ellipse cx="779.05" cy="725.85" rx="40.95" ry="40.75"/><ellipse cx="779.05" cy="725.85" rx="81.9" ry="81.5"/><ellipse cx="779.05" cy="725.85" rx="122.85" ry="122.25"/><ellipse cx="779.05" cy="725.85" rx="163.8" ry="163" stroke-width="0.98"/><path d="M779.05 725.85L821.44 568.4M779.05 725.85L860.95 584.69M779.05 725.85L920.9 644.35M779.05 725.85L937.27 683.66M779.05 725.85L937.27 768.04M779.05 725.85L920.9 807.35M779.05 725.85L860.95 867.01M779.05 725.85L821.44 883.3M779.05 725.85L736.66 883.3M779.05 725.85L697.15 867.01M779.05 725.85L637.2 807.35M779.05 725.85L620.83 768.04M779.05 725.85L620.83 683.66M779.05 725.85L637.2 644.35M779.05 725.85L697.15 584.69M779.05 725.85L736.66 568.4"/><path d="M779.1 725.9L894.92 610.64" stroke-width="1.0"/><path d="M778.95 725.95L894.77 841.21" stroke-width="1.0"/><path d="M779.1 725.9L663.28 841.16" stroke-width="1.0"/><path d="M778.95 725.95L663.13 610.69" stroke-width="1.3"/><path d="M779.5 562.85L779.5 888.85" stroke="#0a0a0a" stroke-width="1"/><path d="M615.25 725.85L942.85 725.85" stroke="#161616" stroke-width="1.25"/><path d="M793.33 563.47L793.03 566.78M807.49 565.33L806.91 568.6M835.07 572.68L833.93 575.8M848.27 578.12L846.86 581.13M873 592.33L871.09 595.05M884.34 600.98L882.19 603.53M904.53 621.08L901.97 623.21M913.23 632.36L910.49 634.26M927.5 656.96L924.48 658.37M932.97 670.1L929.83 671.24M940.36 697.55L937.07 698.12M942.23 711.64L938.9 711.93M942.23 740.06L938.9 739.77M940.36 754.15L937.07 753.58M932.97 781.6L929.83 780.46M927.5 794.74L924.48 793.33M913.23 819.34L910.49 817.44M904.53 830.62L901.97 828.49M884.34 850.72L882.19 848.17M873 859.37L871.09 856.65M848.27 873.58L846.86 870.57M835.07 879.02L833.93 875.9M807.49 886.37L806.91 883.1M793.33 888.23L793.03 884.92M764.77 888.23L765.07 884.92M750.61 886.37L751.19 883.1M723.03 879.02L724.17 875.9M709.83 873.58L711.24 870.57M685.1 859.37L687.01 856.65M673.76 850.72L675.91 848.17M653.57 830.62L656.13 828.49M644.87 819.34L647.61 817.44M630.6 794.74L633.62 793.33M625.13 781.6L628.27 780.46M617.74 754.15L621.03 753.58M615.87 740.06L619.2 739.77M615.87 711.64L619.2 711.93M617.74 697.55L621.03 698.12M625.13 670.1L628.27 671.24M630.6 656.96L633.62 658.37M644.87 632.36L647.61 634.26M653.57 621.08L656.13 623.21M673.76 600.98L675.91 603.53M685.1 592.33L687.01 595.05M709.83 578.12L711.24 581.13M723.03 572.68L724.17 575.8M750.61 565.33L751.19 568.6M764.77 563.47L765.07 566.78" stroke-width="0.9"/><path d="M787.24 724.6L787.24 727.1M795.43 724.6L795.43 727.1M803.62 724.6L803.62 727.1M811.81 724.6L811.81 727.1M820 724.6L820 727.1M828.19 724.6L828.19 727.1M836.38 724.6L836.38 727.1M844.57 724.6L844.57 727.1M852.76 724.6L852.76 727.1M860.95 724.6L860.95 727.1M869.14 724.6L869.14 727.1M877.33 724.6L877.33 727.1M885.52 724.6L885.52 727.1M893.71 724.6L893.71 727.1M901.9 724.6L901.9 727.1M910.09 724.6L910.09 727.1M918.28 724.6L918.28 727.1M926.47 724.6L926.47 727.1M934.66 724.6L934.66 727.1" stroke="#000" stroke-width="0.75"/><path d="M777.7 685.1L781.3 685.1M777.7 766.6L781.3 766.6M777.7 644.35L781.3 644.35M777.7 807.35L781.3 807.35M777.7 603.6L781.3 603.6M777.7 848.1L781.3 848.1" stroke="#000" stroke-width="1"/></g><g font-family="Liberation Sans, sans-serif" font-size="7.8" fill="#262626" stroke="#262626" stroke-width="0.3"><text x="776.83" y="560.65" textLength="4.45" lengthAdjust="spacingAndGlyphs">0</text><text x="821.74" y="566.9" textLength="8.9" lengthAdjust="spacingAndGlyphs">15</text><text x="861.25" y="583.19" textLength="8.9" lengthAdjust="spacingAndGlyphs">30</text><text x="895.17" y="609.09" textLength="8.9" lengthAdjust="spacingAndGlyphs">45</text><text x="921.2" y="642.85" textLength="8.9" lengthAdjust="spacingAndGlyphs">60</text><text x="937.57" y="682.16" textLength="8.9" lengthAdjust="spacingAndGlyphs">75</text><text x="943.35" y="728.64" textLength="8.9" lengthAdjust="spacingAndGlyphs">90</text><text x="937.57" y="774.84" textLength="13.34" lengthAdjust="spacingAndGlyphs">105</text><text x="921.2" y="814.15" textLength="13.34" lengthAdjust="spacingAndGlyphs">120</text><text x="895.17" y="847.91" textLength="13.34" lengthAdjust="spacingAndGlyphs">135</text><text x="861.25" y="873.81" textLength="13.34" lengthAdjust="spacingAndGlyphs">150</text><text x="821.74" y="890.1" textLength="13.34" lengthAdjust="spacingAndGlyphs">165</text><text x="772.38" y="895.45" textLength="13.34" lengthAdjust="spacingAndGlyphs">180</text><text x="723.21" y="890.1" textLength="13.34" lengthAdjust="spacingAndGlyphs">195</text><text x="683.71" y="873.81" textLength="13.34" lengthAdjust="spacingAndGlyphs">210</text><text x="649.78" y="847.91" textLength="13.34" lengthAdjust="spacingAndGlyphs">225</text><text x="623.75" y="814.15" textLength="13.34" lengthAdjust="spacingAndGlyphs">240</text><text x="607.39" y="774.84" textLength="13.34" lengthAdjust="spacingAndGlyphs">255</text><text x="601.41" y="728.64" textLength="13.34" lengthAdjust="spacingAndGlyphs">270</text><text x="607.39" y="682.16" textLength="13.34" lengthAdjust="spacingAndGlyphs">285</text><text x="623.75" y="642.85" textLength="13.34" lengthAdjust="spacingAndGlyphs">300</text><text x="649.78" y="609.09" textLength="13.34" lengthAdjust="spacingAndGlyphs">315</text><text x="683.71" y="583.19" textLength="13.34" lengthAdjust="spacingAndGlyphs">330</text><text x="723.21" y="566.9" textLength="13.34" lengthAdjust="spacingAndGlyphs">345</text><text x="814.52" y="734.85" textLength="11.56" lengthAdjust="spacingAndGlyphs">-20</text><text x="855.47" y="734.85" textLength="11.56" lengthAdjust="spacingAndGlyphs">-10</text><text x="899.78" y="734.85" textLength="4.45" lengthAdjust="spacingAndGlyphs">0</text><text x="926.26" y="737.45" textLength="9.78" lengthAdjust="spacingAndGlyphs">dB</text></g><g fill="none" stroke-width="1.25" stroke-linejoin="round" stroke-linecap="round"><path d="M779.05 587.33C783.09 587.39 787.15 587.61 791.17 588.01C795.19 588.41 799.2 588.99 803.17 589.73C807.14 590.47 811.08 591.38 814.97 592.43C818.87 593.49 822.73 594.7 826.52 596.07C830.31 597.44 834.06 598.96 837.72 600.66C841.37 602.35 844.97 604.21 848.45 606.23C851.93 608.25 855.33 610.45 858.61 612.78C861.89 615.11 865.08 617.6 868.13 620.21C871.18 622.83 874.1 625.6 876.91 628.46C879.72 631.33 882.44 634.3 884.98 637.4C887.53 640.49 889.99 643.68 892.2 647.01C894.4 650.34 896.47 653.8 898.22 657.39C899.96 660.97 901.39 664.73 902.64 668.5C903.89 672.27 904.8 676.15 905.69 679.98C906.58 683.81 907.31 687.65 908 691.47C908.7 695.29 909.36 699.08 909.86 702.9C910.37 706.71 910.77 710.53 911.04 714.36C911.3 718.18 911.44 722.02 911.45 725.85C911.46 729.68 911.36 733.52 911.12 737.35C910.88 741.18 910.53 745.02 910.01 748.83C909.5 752.64 908.82 756.45 908 760.23C907.18 764.01 906.22 767.78 905.1 771.51C903.99 775.23 902.75 778.95 901.3 782.58C899.85 786.21 898.23 789.8 896.4 793.27C894.56 796.73 892.49 800.11 890.3 803.37C888.1 806.63 885.7 809.76 883.22 812.83C880.74 815.9 878.14 818.88 875.43 821.76C872.72 824.64 869.89 827.43 866.96 830.1C864.03 832.78 860.96 835.32 857.84 837.83C854.72 840.33 851.5 842.69 848.25 845.12C845 847.56 841.77 850.07 838.37 852.44C834.97 854.81 831.53 857.32 827.87 859.33C824.21 861.35 820.36 863.24 816.4 864.55C812.43 865.86 808.24 866.63 804.09 867.19C799.95 867.75 795.71 867.81 791.54 867.92C787.37 868.03 783.21 867.9 779.05 867.85C774.89 867.81 770.74 867.84 766.58 867.64C762.43 867.44 758.23 867.24 754.1 866.64C749.98 866.05 745.82 865.26 741.83 864.07C737.84 862.89 733.93 861.28 730.16 859.52C726.39 857.77 722.76 855.67 719.21 853.56C715.65 851.45 712.22 849.17 708.85 846.85C705.48 844.52 702.17 842.15 698.99 839.63C695.81 837.11 692.72 834.48 689.77 831.73C686.81 828.99 683.97 826.12 681.26 823.17C678.54 820.21 675.93 817.15 673.47 814.01C671.01 810.86 668.64 807.63 666.48 804.29C664.32 800.95 662.29 797.5 660.49 793.97C658.7 790.43 657.11 786.77 655.7 783.09C654.29 779.4 653.11 775.63 652.03 771.86C650.95 768.09 650.03 764.28 649.23 760.47C648.43 756.65 647.77 752.82 647.25 748.98C646.74 745.14 646.39 741.28 646.14 737.42C645.89 733.57 645.78 729.71 645.75 725.85C645.72 721.99 645.76 718.13 645.94 714.26C646.12 710.4 646.38 706.51 646.85 702.65C647.32 698.79 647.96 694.93 648.75 691.11C649.53 687.28 650.47 683.45 651.58 679.68C652.69 675.91 653.9 672.12 655.39 668.47C656.87 664.81 658.53 661.17 660.49 657.73C662.45 654.3 664.75 651.02 667.14 647.88C669.54 644.73 672.24 641.8 674.88 638.87C677.53 635.94 680.3 633.15 683.02 630.29C685.75 627.44 688.43 624.53 691.26 621.74C694.09 618.94 696.94 616.1 700.01 613.52C703.07 610.93 706.29 608.45 709.65 606.23C713.01 604.01 716.57 602.03 720.18 600.21C723.79 598.39 727.52 596.77 731.31 595.33C735.1 593.89 738.98 592.62 742.89 591.57C746.81 590.52 750.8 589.66 754.8 589.01C758.8 588.36 762.86 587.93 766.9 587.65C770.94 587.37 775.01 587.27 779.05 587.33Z" stroke="#ff0000"/><path d="M779.05 581.16C783.27 581.17 787.51 581.37 791.72 581.75C795.92 582.14 800.12 582.74 804.28 583.48C808.43 584.22 812.56 585.14 816.66 586.19C820.75 587.23 824.83 588.39 828.84 589.73C832.85 591.07 836.85 592.53 840.72 594.24C844.6 595.94 848.43 597.83 852.1 599.94C855.77 602.06 859.32 604.42 862.73 606.92C866.14 609.42 869.42 612.14 872.57 614.94C875.72 617.75 878.74 620.71 881.65 623.75C884.57 626.79 887.4 629.91 890.06 633.15C892.73 636.4 895.31 639.74 897.62 643.23C899.93 646.72 902.11 650.35 903.93 654.1C905.76 657.86 907.26 661.8 908.57 665.75C909.87 669.7 910.83 673.77 911.77 677.78C912.71 681.79 913.46 685.82 914.18 689.82C914.91 693.82 915.61 697.8 916.14 701.8C916.66 705.79 917.1 709.8 917.36 713.81C917.61 717.82 917.72 721.84 917.65 725.85C917.58 729.86 917.34 733.87 916.96 737.86C916.57 741.84 916.04 745.82 915.35 749.77C914.66 753.71 913.81 757.63 912.83 761.52C911.85 765.41 910.74 769.27 909.47 773.09C908.2 776.9 906.8 780.69 905.21 784.39C903.63 788.1 901.88 791.76 899.95 795.31C898.01 798.85 895.86 802.31 893.59 805.66C891.32 809.01 888.86 812.25 886.32 815.42C883.79 818.6 881.13 821.67 878.4 824.71C875.67 827.75 872.89 830.77 869.96 833.67C867.04 836.57 864.04 839.44 860.86 842.11C857.68 844.79 854.35 847.33 850.9 849.69C847.45 852.05 843.85 854.25 840.17 856.28C836.48 858.3 832.68 860.2 828.78 861.82C824.89 863.44 820.86 864.89 816.79 865.99C812.71 867.1 808.5 867.87 804.31 868.43C800.13 868.99 795.88 869.2 791.67 869.37C787.46 869.54 783.25 869.49 779.05 869.45C774.85 869.4 770.65 869.36 766.46 869.1C762.26 868.85 758.03 868.56 753.88 867.9C749.73 867.24 745.55 866.38 741.55 865.13C737.54 863.87 733.62 862.19 729.85 860.37C726.07 858.55 722.46 856.37 718.9 854.21C715.34 852.06 711.91 849.75 708.5 847.45C705.09 845.15 701.7 842.87 698.43 840.43C695.15 837.99 691.92 835.49 688.85 832.82C685.79 830.14 682.83 827.32 680.06 824.36C677.28 821.4 674.67 818.27 672.21 815.06C669.75 811.86 667.43 808.52 665.29 805.11C663.15 801.71 661.16 798.19 659.37 794.61C657.57 791.03 655.96 787.35 654.52 783.63C653.09 779.92 651.86 776.12 650.75 772.32C649.64 768.52 648.69 764.68 647.88 760.83C647.07 756.97 646.41 753.09 645.9 749.21C645.4 745.33 645.07 741.43 644.83 737.54C644.59 733.64 644.49 729.75 644.45 725.85C644.41 721.95 644.41 718.05 644.57 714.14C644.73 710.23 644.94 706.3 645.39 702.4C645.85 698.49 646.46 694.58 647.3 690.72C648.13 686.86 649.2 683.03 650.41 679.26C651.63 675.49 653.03 671.75 654.58 668.09C656.13 664.43 657.84 660.81 659.71 657.29C661.59 653.77 663.65 650.32 665.84 646.96C668.03 643.61 670.4 640.37 672.86 637.18C675.31 633.99 677.9 630.9 680.55 627.83C683.2 624.76 685.91 621.72 688.76 618.78C691.62 615.84 694.55 612.91 697.67 610.2C700.8 607.49 704.08 604.9 707.5 602.53C710.92 600.16 714.52 597.98 718.19 595.98C721.87 593.98 725.68 592.15 729.56 590.54C733.44 588.92 737.43 587.48 741.47 586.28C745.51 585.08 749.65 584.11 753.8 583.34C757.95 582.57 762.17 582.05 766.38 581.69C770.58 581.32 774.83 581.15 779.05 581.16Z" stroke="#38088c"/><path d="M779.05 580.46C783.29 580.48 787.55 580.67 791.78 581.06C796 581.45 800.22 582.05 804.4 582.79C808.58 583.53 812.72 584.47 816.84 585.51C820.95 586.56 825.05 587.73 829.08 589.08C833.11 590.42 837.12 591.89 841.02 593.6C844.92 595.31 848.76 597.21 852.45 599.34C856.14 601.46 859.71 603.84 863.13 606.35C866.56 608.86 869.85 611.59 873.02 614.41C876.19 617.22 879.22 620.21 882.15 623.26C885.08 626.31 887.93 629.44 890.6 632.71C893.27 635.97 895.87 639.32 898.19 642.83C900.52 646.34 902.7 649.98 904.54 653.75C906.37 657.52 907.89 661.49 909.2 665.46C910.52 669.42 911.48 673.51 912.43 677.54C913.37 681.57 914.13 685.62 914.86 689.64C915.59 693.66 916.29 697.66 916.82 701.68C917.36 705.69 917.8 709.72 918.05 713.75C918.31 717.78 918.42 721.82 918.35 725.85C918.28 729.88 918.04 733.91 917.65 737.92C917.27 741.92 916.73 745.92 916.04 749.89C915.35 753.85 914.49 757.8 913.51 761.7C912.52 765.61 911.4 769.49 910.12 773.32C908.85 777.15 907.44 780.96 905.85 784.69C904.25 788.41 902.5 792.1 900.55 795.66C898.61 799.22 896.45 802.69 894.17 806.06C891.88 809.43 889.41 812.68 886.86 815.87C884.32 819.06 881.63 822.15 878.89 825.21C876.15 828.26 873.35 831.29 870.41 834.2C867.48 837.11 864.45 840 861.26 842.69C858.07 845.37 854.72 847.92 851.25 850.29C847.78 852.66 844.17 854.88 840.46 856.91C836.76 858.94 832.94 860.85 829.02 862.48C825.11 864.1 821.06 865.56 816.97 866.67C812.87 867.77 808.64 868.55 804.44 869.11C800.23 869.68 795.96 869.9 791.73 870.07C787.5 870.24 783.27 870.19 779.05 870.14C774.83 870.1 770.61 870.06 766.39 869.8C762.18 869.54 757.93 869.25 753.76 868.58C749.59 867.92 745.39 867.06 741.37 865.8C737.34 864.54 733.4 862.85 729.61 861.03C725.81 859.2 722.18 857.01 718.6 854.85C715.03 852.68 711.58 850.36 708.15 848.05C704.72 845.74 701.32 843.45 698.03 841C694.74 838.55 691.48 836.04 688.41 833.35C685.33 830.66 682.35 827.83 679.56 824.85C676.77 821.88 674.14 818.74 671.67 815.51C669.2 812.29 666.87 808.94 664.72 805.51C662.57 802.09 660.56 798.56 658.76 794.96C656.95 791.36 655.33 787.66 653.89 783.93C652.44 780.19 651.21 776.38 650.09 772.56C648.98 768.74 648.01 764.88 647.2 761.01C646.39 757.14 645.73 753.24 645.21 749.33C644.7 745.43 644.38 741.51 644.13 737.6C643.89 733.68 643.79 729.77 643.75 725.85C643.71 721.93 643.71 718.01 643.87 714.08C644.03 710.15 644.25 706.2 644.7 702.28C645.16 698.35 645.78 694.42 646.62 690.54C647.46 686.66 648.54 682.81 649.76 679.02C650.98 675.23 652.38 671.48 653.94 667.8C655.5 664.12 657.22 660.48 659.11 656.94C660.99 653.4 663.06 649.93 665.26 646.57C667.47 643.2 669.85 639.93 672.32 636.73C674.79 633.53 677.39 630.42 680.06 627.34C682.72 624.26 685.44 621.2 688.31 618.24C691.18 615.29 694.13 612.35 697.27 609.63C700.41 606.91 703.71 604.3 707.15 601.92C710.59 599.54 714.2 597.36 717.9 595.35C721.59 593.34 725.42 591.51 729.32 589.88C733.22 588.26 737.23 586.81 741.29 585.61C745.35 584.4 749.51 583.42 753.68 582.65C757.85 581.88 762.09 581.36 766.31 580.99C770.54 580.63 774.81 580.45 779.05 580.46Z" stroke="#800000"/><path d="M779.05 582.65C783.23 582.64 787.43 582.84 791.59 583.22C795.75 583.61 799.9 584.23 804.01 584.98C808.12 585.73 812.2 586.67 816.24 587.72C820.28 588.78 824.3 589.96 828.26 591.31C832.21 592.67 836.14 594.15 839.96 595.87C843.78 597.58 847.54 599.47 851.15 601.58C854.76 603.69 858.26 606.03 861.62 608.51C864.97 610.99 868.2 613.67 871.3 616.45C874.41 619.22 877.37 622.16 880.24 625.16C883.11 628.16 885.9 631.24 888.51 634.45C891.13 637.65 893.68 640.95 895.95 644.4C898.21 647.85 900.34 651.43 902.11 655.15C903.88 658.86 905.32 662.78 906.56 666.68C907.8 670.59 908.67 674.62 909.54 678.59C910.41 682.55 911.1 686.52 911.77 690.46C912.44 694.41 913.08 698.32 913.56 702.25C914.04 706.18 914.43 710.11 914.66 714.04C914.89 717.98 914.98 721.92 914.95 725.85C914.92 729.78 914.79 733.72 914.51 737.64C914.23 741.57 913.86 745.51 913.26 749.4C912.66 753.29 911.9 757.19 910.9 761.01C909.9 764.82 908.65 768.59 907.26 772.29C905.87 775.98 904.27 779.61 902.57 783.17C900.88 786.73 899.04 790.23 897.09 793.67C895.14 797.1 893.08 800.49 890.89 803.78C888.7 807.07 886.37 810.29 883.94 813.43C881.5 816.57 878.93 819.62 876.28 822.6C873.62 825.59 870.88 828.52 868 831.34C865.13 834.17 862.17 836.95 859.04 839.54C855.92 842.12 852.64 844.58 849.25 846.85C845.86 849.12 842.32 851.22 838.7 853.15C835.08 855.08 831.35 856.88 827.53 858.41C823.72 859.94 819.78 861.3 815.8 862.34C811.82 863.38 807.72 864.11 803.64 864.64C799.56 865.16 795.43 865.36 791.33 865.5C787.23 865.64 783.13 865.57 779.05 865.46C774.97 865.36 770.89 865.22 766.83 864.88C762.76 864.54 758.68 864.13 754.67 863.42C750.66 862.7 746.65 861.81 742.76 860.61C738.88 859.42 735.06 857.9 731.36 856.24C727.66 854.58 724.07 852.65 720.57 850.65C717.07 848.66 713.66 846.5 710.35 844.26C707.04 842.02 703.8 839.68 700.69 837.22C697.58 834.75 694.57 832.16 691.68 829.46C688.8 826.77 686.03 823.95 683.38 821.05C680.73 818.16 678.17 815.17 675.76 812.09C673.36 809.02 671.04 805.85 668.93 802.58C666.81 799.31 664.83 795.94 663.09 792.47C661.35 789.01 659.82 785.42 658.47 781.8C657.11 778.19 655.99 774.49 654.96 770.79C653.94 767.1 653.06 763.37 652.32 759.64C651.58 755.91 650.99 752.15 650.54 748.4C650.08 744.65 649.82 740.88 649.61 737.12C649.39 733.36 649.31 729.61 649.25 725.85C649.19 722.09 649.15 718.33 649.24 714.55C649.33 710.77 649.45 706.96 649.81 703.17C650.16 699.38 650.66 695.57 651.35 691.8C652.05 688.03 652.94 684.27 653.98 680.55C655.01 676.83 656.2 673.12 657.57 669.48C658.95 665.85 660.48 662.23 662.22 658.73C663.96 655.23 665.92 651.8 668.01 648.48C670.09 645.15 672.39 641.93 674.75 638.76C677.11 635.59 679.62 632.52 682.18 629.45C684.73 626.38 687.33 623.31 690.09 620.35C692.85 617.39 695.68 614.42 698.73 611.7C701.77 608.97 704.98 606.35 708.35 603.99C711.72 601.64 715.3 599.51 718.94 597.57C722.58 595.63 726.38 593.9 730.22 592.34C734.06 590.78 738 589.4 741.99 588.2C745.97 587.01 750.03 585.99 754.12 585.17C758.21 584.36 762.36 583.74 766.52 583.32C770.67 582.9 774.87 582.67 779.05 582.65Z" stroke="#cc0088"/><path d="M779.05 601.46C782.68 601.39 786.33 601.42 789.97 601.63C793.61 601.83 797.25 602.18 800.87 602.69C804.49 603.19 808.1 603.87 811.69 604.64C815.28 605.41 818.86 606.28 822.4 607.32C825.94 608.36 829.5 609.48 832.92 610.89C836.34 612.3 839.73 613.9 842.9 615.8C846.07 617.69 849.09 619.92 851.95 622.25C854.8 624.59 857.46 627.19 860.04 629.8C862.62 632.41 865.06 635.15 867.44 637.89C869.82 640.64 872.16 643.41 874.33 646.29C876.51 649.16 878.62 652.1 880.51 655.15C882.4 658.21 884.16 661.36 885.66 664.6C887.16 667.84 888.42 671.21 889.52 674.59C890.61 677.97 891.47 681.43 892.23 684.86C892.99 688.29 893.59 691.74 894.09 695.18C894.59 698.61 894.98 702.04 895.21 705.47C895.45 708.89 895.54 712.31 895.52 715.71C895.49 719.11 895.33 722.49 895.05 725.85C894.77 729.21 894.35 732.54 893.81 735.84C893.28 739.14 892.6 742.41 891.84 745.64C891.09 748.87 890.2 752.07 889.26 755.24C888.33 758.41 887.35 761.56 886.24 764.67C885.13 767.78 883.98 770.9 882.61 773.91C881.24 776.91 879.73 779.89 878.04 782.72C876.34 785.56 874.43 788.29 872.42 790.91C870.42 793.53 868.25 796.05 866 798.46C863.76 800.87 861.43 803.22 858.95 805.36C856.47 807.51 853.81 809.47 851.12 811.32C848.44 813.18 845.57 814.75 842.84 816.51C840.11 818.26 837.37 819.87 834.75 821.85C832.13 823.84 829.72 826.16 827.11 828.41C824.5 830.67 821.96 833.32 819.11 835.38C816.26 837.45 813.2 839.44 810 840.81C806.81 842.18 803.34 842.99 799.92 843.62C796.5 844.25 792.97 844.46 789.49 844.61C786.01 844.77 782.52 844.67 779.05 844.57C775.58 844.46 772.11 844.34 768.66 843.98C765.22 843.61 761.76 843.17 758.41 842.36C755.06 841.54 751.7 840.52 748.56 839.08C745.43 837.64 742.41 835.74 739.59 833.72C736.78 831.7 734.18 829.28 731.67 826.96C729.16 824.63 726.8 822.22 724.55 819.79C722.3 817.36 720.16 814.89 718.17 812.38C716.17 809.86 714.37 807.22 712.56 804.7C710.75 802.19 709.07 799.66 707.28 797.27C705.49 794.88 703.63 792.64 701.82 790.34C700 788.04 698.08 785.83 696.39 783.45C694.7 781.07 693.04 778.63 691.67 776.05C690.3 773.48 689.21 770.74 688.18 768.01C687.16 765.29 686.39 762.48 685.53 759.72C684.68 756.96 683.94 754.2 683.04 751.45C682.13 748.7 681.08 746 680.12 743.21C679.17 740.42 678.07 737.6 677.31 734.71C676.54 731.81 675.87 728.83 675.55 725.85C675.23 722.87 675.27 719.83 675.41 716.83C675.55 713.82 675.97 710.83 676.37 707.83C676.77 704.84 677.3 701.87 677.82 698.86C678.34 695.85 678.83 692.82 679.47 689.78C680.11 686.75 680.78 683.68 681.66 680.66C682.54 677.64 683.52 674.6 684.74 671.67C685.96 668.74 687.41 665.88 688.96 663.08C690.5 660.27 692.26 657.58 694 654.84C695.75 652.09 697.61 649.43 699.43 646.62C701.25 643.8 703 640.85 704.93 637.95C706.87 635.05 708.8 631.97 711.05 629.21C713.3 626.45 715.76 623.75 718.45 621.4C721.14 619.05 724.12 617.01 727.17 615.13C730.22 613.26 733.45 611.63 736.73 610.15C740.01 608.68 743.41 607.37 746.85 606.28C750.29 605.18 753.83 604.27 757.38 603.57C760.94 602.87 764.56 602.43 768.17 602.07C771.78 601.72 775.42 601.54 779.05 601.46Z" stroke="#80e080"/><path d="M779.05 601.46C782.68 601.39 786.33 601.42 789.97 601.63C793.61 601.83 797.25 602.18 800.87 602.69C804.49 603.19 808.1 603.87 811.69 604.64C815.28 605.41 818.86 606.28 822.4 607.32C825.94 608.36 829.5 609.48 832.92 610.89C836.34 612.3 839.73 613.9 842.9 615.8C846.07 617.69 849.09 619.92 851.95 622.25C854.8 624.59 857.46 627.19 860.04 629.8C862.62 632.41 865.06 635.15 867.44 637.89C869.82 640.64 872.16 643.41 874.33 646.29C876.51 649.16 878.62 652.1 880.51 655.15C882.4 658.21 884.16 661.36 885.66 664.6C887.16 667.84 888.42 671.21 889.52 674.59C890.61 677.97 891.47 681.43 892.23 684.86C892.99 688.29 893.59 691.74 894.09 695.18C894.59 698.61 894.98 702.04 895.21 705.47C895.45 708.89 895.54 712.31 895.52 715.71C895.49 719.11 895.34 722.5 895.05 725.85C894.76 729.2 894.32 732.54 893.77 735.84C893.23 739.13 892.52 742.4 891.77 745.63C891.02 748.86 890.15 752.05 889.26 755.24C888.37 758.42 887.47 761.6 886.44 764.75C885.41 767.89 884.36 771.05 883.1 774.13C881.84 777.21 880.45 780.26 878.9 783.22C877.36 786.18 875.65 789.08 873.83 791.89C872.01 794.71 870.08 797.48 867.97 800.1C865.87 802.72 863.65 805.3 861.22 807.61C858.78 809.93 856.08 812.01 853.35 813.97C850.63 815.93 847.68 817.58 844.86 819.38C842.04 821.18 839.2 822.82 836.45 824.78C833.7 826.74 831.14 828.99 828.39 831.14C825.64 833.29 822.93 835.75 819.96 837.7C816.99 839.65 813.83 841.52 810.55 842.83C807.27 844.14 803.74 844.93 800.26 845.56C796.78 846.2 793.2 846.41 789.67 846.63C786.13 846.84 782.59 846.8 779.05 846.86C775.51 846.91 771.96 847.06 768.4 846.96C764.85 846.85 761.22 846.81 757.72 846.22C754.22 845.62 750.66 844.82 747.4 843.41C744.13 841.99 741.01 839.91 738.13 837.73C735.25 835.54 732.66 832.79 730.11 830.29C727.56 827.79 725.21 825.18 722.85 822.72C720.49 820.25 718.17 817.93 715.96 815.51C713.75 813.09 711.64 810.66 709.61 808.2C707.59 805.73 705.67 803.23 703.81 800.72C701.96 798.2 700.19 795.67 698.5 793.11C696.81 790.55 695.18 787.97 693.66 785.35C692.15 782.72 690.72 780.05 689.42 777.35C688.11 774.64 686.92 771.88 685.83 769.11C684.73 766.33 683.74 763.52 682.84 760.7C681.94 757.87 681.13 755.02 680.43 752.15C679.72 749.28 679.12 746.38 678.6 743.47C678.09 740.57 677.68 737.64 677.36 734.7C677.03 731.77 676.8 728.81 676.65 725.85C676.5 722.89 676.43 719.91 676.46 716.92C676.49 713.93 676.6 710.92 676.83 707.91C677.06 704.9 677.39 701.88 677.82 698.86C678.25 695.83 678.76 692.79 679.39 689.75C680.02 686.72 680.73 683.66 681.62 680.64C682.51 677.63 683.52 674.59 684.74 671.67C685.96 668.74 687.41 665.88 688.96 663.08C690.5 660.27 692.26 657.58 694 654.84C695.75 652.09 697.61 649.43 699.43 646.62C701.25 643.8 703 640.85 704.93 637.95C706.87 635.05 708.8 631.97 711.05 629.21C713.3 626.45 715.76 623.75 718.45 621.4C721.14 619.05 724.12 617.01 727.17 615.13C730.22 613.26 733.45 611.63 736.73 610.15C740.01 608.68 743.41 607.37 746.85 606.28C750.29 605.18 753.83 604.27 757.38 603.57C760.94 602.87 764.56 602.43 768.17 602.07C771.78 601.72 775.42 601.54 779.05 601.46Z" stroke="#6f8a00"/></g></g></g></svg>
</body></html>
